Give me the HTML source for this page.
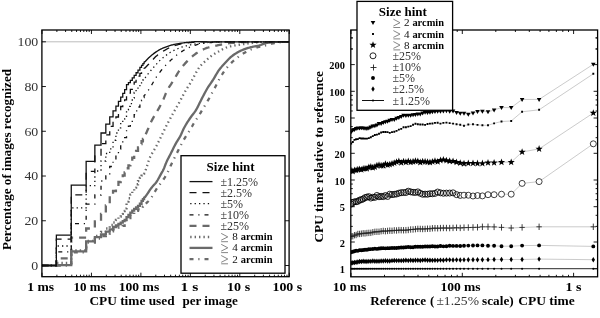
<!DOCTYPE html>
<html><head><meta charset="utf-8"><title>figure</title><style>html,body{margin:0;padding:0;background:#fff;overflow:hidden}svg{display:block;will-change:transform}text{font-family:"Liberation Serif",serif}</style></head><body>
<svg width="600" height="318" viewBox="0 0 600 318">
<rect width="600" height="318" fill="#fff"/>
<defs><clipPath id="cl"><rect x="41.9" y="30" width="247.2" height="246.7"/></clipPath>
<clipPath id="clg"><rect x="41.9" y="41.1" width="247.2" height="235.6"/></clipPath>
<clipPath id="cr"><rect x="350.8" y="30" width="246.8" height="246.8"/></clipPath></defs>
<line x1="41.9" y1="41.8" x2="289.1" y2="41.8" stroke="#a0a0a0" stroke-width="0.7"/>
<path d="M41.9 265.5h4M289.1 265.5h-4M41.9 220.76h4M289.1 220.76h-4M41.9 176.02h4M289.1 176.02h-4M41.9 131.28h4M289.1 131.28h-4M41.9 86.54h4M289.1 86.54h-4M41.9 41.8h4M289.1 41.8h-4M42 276.7v-4M42 30v4M56.89 276.7v-2M56.89 30v2M65.59 276.7v-2M65.59 30v2M71.77 276.7v-2M71.77 30v2M76.56 276.7v-2M76.56 30v2M80.48 276.7v-2M80.48 30v2M83.79 276.7v-2M83.79 30v2M86.66 276.7v-2M86.66 30v2M89.19 276.7v-2M89.19 30v2M91.45 276.7v-4M91.45 30v4M106.34 276.7v-2M106.34 30v2M115.04 276.7v-2M115.04 30v2M121.22 276.7v-2M121.22 30v2M126.01 276.7v-2M126.01 30v2M129.93 276.7v-2M129.93 30v2M133.24 276.7v-2M133.24 30v2M136.11 276.7v-2M136.11 30v2M138.64 276.7v-2M138.64 30v2M140.9 276.7v-4M140.9 30v4M155.79 276.7v-2M155.79 30v2M164.49 276.7v-2M164.49 30v2M170.67 276.7v-2M170.67 30v2M175.46 276.7v-2M175.46 30v2M179.38 276.7v-2M179.38 30v2M182.69 276.7v-2M182.69 30v2M185.56 276.7v-2M185.56 30v2M188.09 276.7v-2M188.09 30v2M190.35 276.7v-4M190.35 30v4M205.24 276.7v-2M205.24 30v2M213.94 276.7v-2M213.94 30v2M220.12 276.7v-2M220.12 30v2M224.91 276.7v-2M224.91 30v2M228.83 276.7v-2M228.83 30v2M232.14 276.7v-2M232.14 30v2M235.01 276.7v-2M235.01 30v2M237.54 276.7v-2M237.54 30v2M239.8 276.7v-4M239.8 30v4M254.69 276.7v-2M254.69 30v2M263.39 276.7v-2M263.39 30v2M269.57 276.7v-2M269.57 30v2M274.36 276.7v-2M274.36 30v2M278.28 276.7v-2M278.28 30v2M281.59 276.7v-2M281.59 30v2M284.46 276.7v-2M284.46 30v2M286.99 276.7v-2M286.99 30v2M289.25 276.7v-4M289.25 30v4" fill="none" stroke="#000" stroke-width="0.9"/>
<g clip-path="url(#clg)">
<path d="M41.9 265.5 H56.38 V265.5 H71.26 V252.4 H86.15 V242.5 H94.86 V238.6 H101.03 V236 H105.83 V233.5 H109.74 V231.3 H113.05 V229.3 H115.92 V227.5 H118.45 V227.23 H120.71 V226.95 H122.76 V225.8 H124.63 V224.17 H126.54 V220.48 H128.45 V218.05 H130.36 V216.03 H132.27 V214.18 H134.18 V212.43 H136.09 V210.82 H138 V209.28 H139.91 V207.73 H141.53 V206.53 H142.91 V205.51 H144.09 V204.62 L145.08 204.26 L145.93 203.5 L146.65 202.85 L147.35 202.2 L148.05 201.54 L148.75 200.84 L149.45 200.09 L150.15 199.28 L150.85 198.39 L151.55 197.37 L152.25 196.26 L152.95 195.09 L153.65 193.87 L154.35 192.64 L155.05 191.42 L155.75 190.24 L156.45 189.13 L157.15 188.09 L157.85 187.09 L158.55 186.13 L159.25 185.2 L159.95 184.27 L160.65 183.35 L161.35 182.43 L162.05 181.48 L162.75 180.51 L163.45 179.5 L164.15 178.45 L164.85 177.34 L165.55 176.16 L166.25 174.93 L166.95 173.64 L167.65 172.3 L168.35 170.88 L169.05 169.36 L169.75 167.8 L170.45 166.22 L171.15 164.67 L171.85 163.19 L172.55 161.74 L173.25 160.32 L173.95 158.91 L174.65 157.52 L175.35 156.13 L176.05 154.76 L176.75 153.38 L177.45 152.01 L178.15 150.62 L178.85 149.23 L179.55 147.84 L180.25 146.46 L180.95 145.09 L181.65 143.75 L182.35 142.42 L183.05 141.14 L183.75 139.89 L184.45 138.68 L185.15 137.53 L185.85 136.41 L186.55 135.31 L187.25 134.23 L187.95 133.15 L188.65 132.07 L189.35 130.98 L190.05 129.87 L190.75 128.72 L191.45 127.52 L192.15 126.27 L192.85 125 L193.55 123.76 L194.25 122.59 L194.95 121.46 L195.65 120.38 L196.35 119.31 L197.05 118.26 L197.75 117.21 L198.45 116.14 L199.15 115.06 L199.85 113.94 L200.55 112.79 L201.25 111.64 L201.95 110.47 L202.65 109.29 L203.35 108.11 L204.05 106.93 L204.75 105.75 L205.45 104.58 L206.15 103.43 L206.85 102.28 L207.55 101.13 L208.25 99.95 L208.95 98.73 L209.65 97.45 L210.35 96.13 L211.05 94.79 L211.75 93.47 L212.45 92.17 L213.15 90.89 L213.85 89.62 L214.55 88.33 L215.25 87.03 L215.95 85.67 L216.65 84.29 L217.35 82.9 L218.05 81.53 L218.75 80.2 L219.45 78.93 L220.15 77.73 L220.85 76.55 L221.55 75.39 L222.25 74.25 L222.95 73.15 L223.65 72.07 L224.35 71.04 L225.05 70.05 L225.75 69.12 L226.45 68.24 L227.15 67.4 L227.85 66.58 L228.55 65.79 L229.25 65.03 L229.95 64.28 L230.65 63.56 L231.35 62.86 L232.05 62.19 L232.75 61.53 L233.45 60.89 L234.15 60.28 L234.85 59.68 L235.55 59.1 L236.25 58.54 L236.95 57.99 L237.65 57.44 L238.35 56.91 L239.05 56.39 L239.75 55.88 L240.45 55.39 L241.15 54.9 L241.85 54.43 L242.55 53.97 L243.25 53.53 L243.95 53.1 L244.65 52.68 L245.35 52.28 L246.05 51.9 L246.75 51.53 L247.45 51.18 L248.15 50.83 L248.85 50.5 L249.55 50.18 L250.25 49.86 L250.95 49.56 L251.65 49.27 L252.35 48.98 L253.05 48.71 L253.75 48.45 L254.45 48.2 L255.15 47.96 L255.85 47.73 L256.55 47.51 L257.25 47.31 L257.95 47.12 L258.65 46.95 L259.35 46.78 L260.05 46.62 L260.75 46.46 L261.45 46.31 L262.15 46.16 L262.85 46 L263.55 45.85 L264.25 45.68 L264.95 45.51 L265.65 45.33 L266.35 45.14 L267.05 44.94 L267.75 44.74 L268.45 44.53 L269.15 44.33 L269.85 44.13 L270.55 43.93 L271.25 43.75 L271.95 43.58 L272.65 43.43 L273.35 43.29 L274.05 43.17 L274.75 43.04 L275.45 42.92 L276.15 42.8 L276.85 42.68 L277.55 42.57 L278.25 42.47 L278.95 42.37 L279.65 42.28 L280.35 42.2 L281.05 42.13 L281.75 42.07 L282.45 42.03 L283.15 41.99 L283.85 41.97 L284.55 41.94 L285.25 41.91 L285.95 41.89 L286.65 41.87 L287.35 41.85 L288.05 41.83 L288.75 41.82 L289.45 41.81 L290.15 41.8 L290.85 41.8 L291 41.8" fill="none" stroke="#6a6a6a" stroke-width="2.3" stroke-dasharray="4 4.8 1.2 5"/>
<path d="M41.9 265.5 H56.38 V265.2 H71.26 V251.4 H86.15 V241.4 H94.86 V237.1 H101.03 V234.3 H105.83 V231.6 H109.74 V229.3 H113.05 V227 H115.92 V225.5 H118.45 V224 H120.71 V222.6 H122.76 V221.2 H124.63 V219.8 H126.54 V217.08 H128.45 V214.84 H130.36 V212.65 H132.27 V210.57 H134.18 V208.85 H136.09 V207.32 H138 V205.9 H139.91 V203.73 H141.53 V200.95 H142.91 V199.06 H144.09 V197.58 L145.08 197.02 L145.93 195.86 L146.65 194.84 L147.35 193.82 L148.05 192.79 L148.75 191.75 L149.45 190.71 L150.15 189.7 L150.85 188.71 L151.55 187.76 L152.25 186.86 L152.95 186.04 L153.65 185.27 L154.35 184.52 L155.05 183.75 L155.75 182.92 L156.45 182.01 L157.15 180.97 L157.85 179.79 L158.55 178.52 L159.25 177.2 L159.95 175.88 L160.65 174.59 L161.35 173.37 L162.05 172.19 L162.75 170.96 L163.45 169.6 L164.15 167.99 L164.85 166.15 L165.55 164.29 L166.25 162.59 L166.95 161.06 L167.65 159.62 L168.35 158.24 L169.05 156.89 L169.75 155.55 L170.45 154.19 L171.15 152.8 L171.85 151.37 L172.55 149.93 L173.25 148.5 L173.95 147.08 L174.65 145.69 L175.35 144.36 L176.05 143.1 L176.75 141.91 L177.45 140.78 L178.15 139.66 L178.85 138.53 L179.55 137.35 L180.25 136.09 L180.95 134.71 L181.65 133.19 L182.35 131.62 L183.05 130.06 L183.75 128.57 L184.45 127.21 L185.15 125.95 L185.85 124.75 L186.55 123.59 L187.25 122.46 L187.95 121.37 L188.65 120.3 L189.35 119.26 L190.05 118.23 L190.75 117.22 L191.45 116.23 L192.15 115.31 L192.85 114.42 L193.55 113.54 L194.25 112.64 L194.95 111.67 L195.65 110.62 L196.35 109.46 L197.05 108.19 L197.75 106.86 L198.45 105.46 L199.15 104.04 L199.85 102.59 L200.55 101.16 L201.25 99.76 L201.95 98.4 L202.65 97.07 L203.35 95.72 L204.05 94.37 L204.75 93.04 L205.45 91.72 L206.15 90.44 L206.85 89.2 L207.55 88.02 L208.25 86.89 L208.95 85.83 L209.65 84.79 L210.35 83.79 L211.05 82.79 L211.75 81.78 L212.45 80.75 L213.15 79.68 L213.85 78.55 L214.55 77.37 L215.25 76.16 L215.95 74.94 L216.65 73.73 L217.35 72.55 L218.05 71.44 L218.75 70.41 L219.45 69.46 L220.15 68.56 L220.85 67.7 L221.55 66.87 L222.25 66.07 L222.95 65.29 L223.65 64.52 L224.35 63.76 L225.05 63 L225.75 62.23 L226.45 61.46 L227.15 60.7 L227.85 59.96 L228.55 59.22 L229.25 58.52 L229.95 57.84 L230.65 57.2 L231.35 56.59 L232.05 56.04 L232.75 55.52 L233.45 55.01 L234.15 54.52 L234.85 54.05 L235.55 53.6 L236.25 53.16 L236.95 52.73 L237.65 52.33 L238.35 51.94 L239.05 51.57 L239.75 51.21 L240.45 50.87 L241.15 50.55 L241.85 50.25 L242.55 49.96 L243.25 49.67 L243.95 49.4 L244.65 49.13 L245.35 48.88 L246.05 48.63 L246.75 48.4 L247.45 48.17 L248.15 47.96 L248.85 47.75 L249.55 47.55 L250.25 47.36 L250.95 47.19 L251.65 47.02 L252.35 46.88 L253.05 46.74 L253.75 46.61 L254.45 46.49 L255.15 46.37 L255.85 46.25 L256.55 46.12 L257.25 45.98 L257.95 45.83 L258.65 45.66 L259.35 45.46 L260.05 45.23 L260.75 44.98 L261.45 44.71 L262.15 44.44 L262.85 44.16 L263.55 43.89 L264.25 43.64 L264.95 43.41 L265.65 43.22 L266.35 43.06 L267.05 42.94 L267.75 42.84 L268.45 42.73 L269.15 42.63 L269.85 42.53 L270.55 42.43 L271.25 42.34 L271.95 42.25 L272.65 42.17 L273.35 42.09 L274.05 42.02 L274.75 41.95 L275.45 41.89 L276.15 41.84 L276.85 41.79 L277.55 41.76 L278.25 41.73 L278.95 41.71 L279.65 41.7 L280.35 41.7 L281.05 41.7 L281.75 41.7 L282.45 41.7 L283.15 41.7 L283.85 41.7 L284.55 41.7 L285.25 41.7 L285.95 41.7 L286 41.8" fill="none" stroke="#6a6a6a" stroke-width="2.3"/>
<path d="M41.9 265.5 H56.38 V263 H71.26 V250.5 H86.15 V240.8 H94.86 V236 H101.03 V232 H105.83 V228.5 H109.74 V225 H113.05 V222.5 H115.92 V220 H118.45 V216.5 H120.71 V213.8 H122.76 V211 H124.63 V208.3 H126.54 V201.54 H128.45 V198.25 H130.36 V194.66 H132.27 V191.1 H134.18 V187.59 H136.09 V184.26 H138 V181.1 H139.91 V177.96 H141.53 V175.62 H142.91 V173.67 H144.09 V171.84 L145.08 171.06 L145.93 169.23 L146.65 167.24 L147.35 165.03 L148.05 162.74 L148.75 160.53 L149.45 158.59 L150.15 157.02 L150.85 155.62 L151.55 154.33 L152.25 153.12 L152.95 151.97 L153.65 150.84 L154.35 149.71 L155.05 148.53 L155.75 147.28 L156.45 145.95 L157.15 144.59 L157.85 143.2 L158.55 141.8 L159.25 140.38 L159.95 138.95 L160.65 137.52 L161.35 136.1 L162.05 134.68 L162.75 133.24 L163.45 131.79 L164.15 130.34 L164.85 128.91 L165.55 127.49 L166.25 126.1 L166.95 124.73 L167.65 123.38 L168.35 122.04 L169.05 120.72 L169.75 119.4 L170.45 118.1 L171.15 116.81 L171.85 115.53 L172.55 114.25 L173.25 112.99 L173.95 111.75 L174.65 110.53 L175.35 109.33 L176.05 108.13 L176.75 106.92 L177.45 105.72 L178.15 104.49 L178.85 103.25 L179.55 101.98 L180.25 100.67 L180.95 99.34 L181.65 98 L182.35 96.65 L183.05 95.31 L183.75 93.99 L184.45 92.69 L185.15 91.44 L185.85 90.23 L186.55 89.07 L187.25 87.94 L187.95 86.84 L188.65 85.74 L189.35 84.65 L190.05 83.54 L190.75 82.4 L191.45 81.23 L192.15 80 L192.85 78.71 L193.55 77.37 L194.25 76.02 L194.95 74.67 L195.65 73.35 L196.35 72.1 L197.05 70.91 L197.75 69.74 L198.45 68.6 L199.15 67.54 L199.85 66.59 L200.55 65.75 L201.25 64.97 L201.95 64.25 L202.65 63.57 L203.35 62.92 L204.05 62.28 L204.75 61.66 L205.45 61.03 L206.15 60.39 L206.85 59.75 L207.55 59.11 L208.25 58.49 L208.95 57.88 L209.65 57.28 L210.35 56.72 L211.05 56.18 L211.75 55.68 L212.45 55.19 L213.15 54.72 L213.85 54.27 L214.55 53.83 L215.25 53.4 L215.95 52.98 L216.65 52.57 L217.35 52.17 L218.05 51.78 L218.75 51.38 L219.45 50.99 L220.15 50.59 L220.85 50.19 L221.55 49.79 L222.25 49.4 L222.95 49.02 L223.65 48.66 L224.35 48.32 L225.05 48.01 L225.75 47.73 L226.45 47.48 L227.15 47.26 L227.85 47.06 L228.55 46.86 L229.25 46.68 L229.95 46.5 L230.65 46.34 L231.35 46.18 L232.05 46.03 L232.75 45.88 L233.45 45.74 L234.15 45.61 L234.85 45.48 L235.55 45.35 L236.25 45.22 L236.95 45.1 L237.65 44.98 L238.35 44.86 L239.05 44.75 L239.75 44.65 L240.45 44.54 L241.15 44.44 L241.85 44.34 L242.55 44.24 L243.25 44.15 L243.95 44.05 L244.65 43.95 L245.35 43.85 L246.05 43.75 L246.75 43.65 L247.45 43.55 L248.15 43.45 L248.85 43.36 L249.55 43.26 L250.25 43.17 L250.95 43.09 L251.65 43.01 L252.35 42.93 L253.05 42.85 L253.75 42.77 L254.45 42.7 L255.15 42.62 L255.85 42.55 L256.55 42.48 L257.25 42.42 L257.95 42.36 L258.65 42.3 L259.35 42.24 L260.05 42.2 L260.75 42.15 L261.45 42.11 L262.15 42.06 L262.85 42.02 L263.55 41.99 L264.25 41.95 L264.95 41.91 L265.65 41.88 L266.35 41.85 L267.05 41.83 L267.75 41.81 L268 41.8" fill="none" stroke="#6a6a6a" stroke-width="2.3" stroke-dasharray="1.4 3.0"/>
<path d="M41.9 265.5 H56.38 V258.3 H71.26 V237.7 H86.15 V228.5 H94.86 V221.5 H101.03 V214 H105.83 V205.5 H109.74 V197.5 H113.05 V191 H115.92 V186.5 H118.45 V182 H120.71 V178.5 H122.76 V175.5 H124.63 V172.5 H126.54 V168.27 H128.45 V165.32 H130.36 V161.71 H132.27 V157.77 H134.18 V154.29 H136.09 V150.94 H138 V147.5 H139.91 V144.04 H141.53 V141.27 H142.91 V138.79 H144.09 V136.55 L145.08 135.66 L145.93 133.78 L146.65 132.17 L147.35 130.59 L148.05 129.01 L148.75 127.4 L149.45 125.74 L150.15 124.08 L150.85 122.48 L151.55 121 L152.25 119.65 L152.95 118.38 L153.65 117.18 L154.35 116.01 L155.05 114.86 L155.75 113.71 L156.45 112.54 L157.15 111.31 L157.85 110.06 L158.55 108.82 L159.25 107.58 L159.95 106.31 L160.65 105.02 L161.35 103.7 L162.05 102.32 L162.75 100.88 L163.45 99.3 L164.15 97.6 L164.85 95.85 L165.55 94.1 L166.25 92.42 L166.95 90.89 L167.65 89.55 L168.35 88.33 L169.05 87.18 L169.75 86.1 L170.45 85.06 L171.15 84.02 L171.85 82.98 L172.55 81.9 L173.25 80.77 L173.95 79.6 L174.65 78.41 L175.35 77.2 L176.05 76 L176.75 74.81 L177.45 73.64 L178.15 72.51 L178.85 71.43 L179.55 70.41 L180.25 69.45 L180.95 68.51 L181.65 67.59 L182.35 66.7 L183.05 65.83 L183.75 64.99 L184.45 64.17 L185.15 63.38 L185.85 62.61 L186.55 61.87 L187.25 61.15 L187.95 60.45 L188.65 59.77 L189.35 59.1 L190.05 58.44 L190.75 57.8 L191.45 57.17 L192.15 56.56 L192.85 55.96 L193.55 55.39 L194.25 54.84 L194.95 54.31 L195.65 53.8 L196.35 53.32 L197.05 52.87 L197.75 52.43 L198.45 52 L199.15 51.58 L199.85 51.18 L200.55 50.78 L201.25 50.4 L201.95 50.03 L202.65 49.68 L203.35 49.35 L204.05 49.03 L204.75 48.73 L205.45 48.45 L206.15 48.19 L206.85 47.95 L207.55 47.73 L208.25 47.51 L208.95 47.31 L209.65 47.12 L210.35 46.93 L211.05 46.75 L211.75 46.58 L212.45 46.41 L213.15 46.25 L213.85 46.1 L214.55 45.94 L215.25 45.8 L215.95 45.65 L216.65 45.51 L217.35 45.37 L218.05 45.23 L218.75 45.09 L219.45 44.95 L220.15 44.81 L220.85 44.67 L221.55 44.52 L222.25 44.38 L222.95 44.24 L223.65 44.1 L224.35 43.97 L225.05 43.84 L225.75 43.71 L226.45 43.59 L227.15 43.47 L227.85 43.37 L228.55 43.26 L229.25 43.17 L229.95 43.09 L230.65 43.01 L231.35 42.95 L232.05 42.88 L232.75 42.82 L233.45 42.76 L234.15 42.7 L234.85 42.65 L235.55 42.59 L236.25 42.54 L236.95 42.49 L237.65 42.44 L238.35 42.39 L239.05 42.35 L239.75 42.3 L240.45 42.26 L241.15 42.22 L241.85 42.19 L242.55 42.15 L243.25 42.12 L243.95 42.09 L244.65 42.07 L245.35 42.04 L246.05 42.02 L246.75 42 L247.45 41.98 L248.15 41.96 L248.85 41.94 L249.55 41.93 L250.25 41.91 L250.95 41.89 L251.65 41.88 L252.35 41.86 L253.05 41.85 L253.75 41.84 L254.45 41.83 L255.15 41.82 L255.85 41.81 L256.55 41.8 L257.25 41.8 L257.95 41.8 L258 41.8" fill="none" stroke="#6a6a6a" stroke-width="2.3" stroke-dasharray="7 6"/>
</g>
<g clip-path="url(#cl)">
<path d="M41.9 265.5 H56.38 V251.9 H71.26 V223.6 H86.15 V204.2 H94.86 V195 H101.03 V181 H105.83 V176 H109.74 V166.5 H113.05 V160.65 H115.92 V155.18 H118.45 V149.06 H120.71 V144.24 H122.76 V140.89 H124.63 V137.61 H126.54 V129.2 H128.45 V126.04 H130.36 V122.83 H132.27 V118.95 H134.18 V114.7 H136.09 V110.91 H138 V107.02 H139.91 V103.17 H141.53 V100.21 H142.91 V97.59 H144.09 V95.58 L145.08 94.9 L145.93 93.6 L146.65 92.57 L147.35 91.61 L148.05 90.66 L148.75 89.7 L149.45 88.69 L150.15 87.6 L150.85 86.45 L151.55 85.25 L152.25 84.02 L152.95 82.77 L153.65 81.52 L154.35 80.3 L155.05 79.11 L155.75 77.98 L156.45 76.93 L157.15 75.91 L157.85 74.91 L158.55 73.94 L159.25 72.98 L159.95 72.05 L160.65 71.15 L161.35 70.26 L162.05 69.39 L162.75 68.55 L163.45 67.73 L164.15 66.93 L164.85 66.15 L165.55 65.39 L166.25 64.65 L166.95 63.92 L167.65 63.21 L168.35 62.52 L169.05 61.84 L169.75 61.17 L170.45 60.52 L171.15 59.88 L171.85 59.24 L172.55 58.62 L173.25 58 L173.95 57.4 L174.65 56.8 L175.35 56.21 L176.05 55.64 L176.75 55.07 L177.45 54.53 L178.15 54 L178.85 53.49 L179.55 53 L180.25 52.53 L180.95 52.06 L181.65 51.6 L182.35 51.14 L183.05 50.7 L183.75 50.27 L184.45 49.84 L185.15 49.43 L185.85 49.04 L186.55 48.66 L187.25 48.3 L187.95 47.96 L188.65 47.64 L189.35 47.34 L190.05 47.05 L190.75 46.77 L191.45 46.49 L192.15 46.22 L192.85 45.97 L193.55 45.72 L194.25 45.48 L194.95 45.26 L195.65 45.05 L196.35 44.85 L197.05 44.66 L197.75 44.49 L198.45 44.33 L199.15 44.19 L199.85 44.05 L200.55 43.91 L201.25 43.78 L201.95 43.65 L202.65 43.52 L203.35 43.41 L204.05 43.29 L204.75 43.19 L205.45 43.09 L206.15 42.99 L206.85 42.9 L207.55 42.82 L208.25 42.75 L208.95 42.68 L209.65 42.63 L210.35 42.58 L211.05 42.53 L211.75 42.48 L212.45 42.43 L213.15 42.38 L213.85 42.34 L214.55 42.29 L215.25 42.25 L215.95 42.21 L216.65 42.16 L217.35 42.13 L218.05 42.09 L218.75 42.05 L219.45 42.02 L220.15 41.99 L220.85 41.96 L221.55 41.93 L222.25 41.9 L222.95 41.88 L223.65 41.86 L224.35 41.84 L225.05 41.83 L225.75 41.82 L226.45 41.81 L227.15 41.8 L227.85 41.8 L228 41.8 H289.1" fill="none" stroke="#111" stroke-width="1.3" stroke-dasharray="4 4.8 1.2 5"/>
<path d="M41.9 265.5 H56.38 V246 H71.26 V207.8 H86.15 V185.7 H94.86 V171 H101.03 V161 H105.83 V153.5 H109.74 V148.9 H113.05 V140.27 H115.92 V133.01 H118.45 V127.81 H120.71 V122.97 H122.76 V119.15 H124.63 V116.23 H126.54 V109.92 H128.45 V106.4 H130.36 V103.57 H132.27 V98.1 H134.18 V92.5 H136.09 V89.54 H138 V86.87 H139.91 V84.03 H141.53 V81.87 H142.91 V80.02 H144.09 V78.44 L145.08 77.84 L145.93 76.64 L146.65 75.67 L147.35 74.77 L148.05 73.89 L148.75 73.04 L149.45 72.2 L150.15 71.36 L150.85 70.52 L151.55 69.69 L152.25 68.87 L152.95 68.05 L153.65 67.24 L154.35 66.45 L155.05 65.67 L155.75 64.89 L156.45 64.1 L157.15 63.32 L157.85 62.55 L158.55 61.79 L159.25 61.06 L159.95 60.37 L160.65 59.72 L161.35 59.11 L162.05 58.51 L162.75 57.93 L163.45 57.35 L164.15 56.78 L164.85 56.23 L165.55 55.68 L166.25 55.15 L166.95 54.64 L167.65 54.14 L168.35 53.65 L169.05 53.18 L169.75 52.72 L170.45 52.29 L171.15 51.87 L171.85 51.47 L172.55 51.08 L173.25 50.72 L173.95 50.38 L174.65 50.05 L175.35 49.72 L176.05 49.4 L176.75 49.1 L177.45 48.8 L178.15 48.51 L178.85 48.23 L179.55 47.95 L180.25 47.69 L180.95 47.44 L181.65 47.19 L182.35 46.96 L183.05 46.74 L183.75 46.52 L184.45 46.32 L185.15 46.12 L185.85 45.94 L186.55 45.76 L187.25 45.59 L187.95 45.43 L188.65 45.27 L189.35 45.11 L190.05 44.96 L190.75 44.82 L191.45 44.68 L192.15 44.54 L192.85 44.41 L193.55 44.29 L194.25 44.16 L194.95 44.05 L195.65 43.93 L196.35 43.82 L197.05 43.72 L197.75 43.62 L198.45 43.52 L199.15 43.43 L199.85 43.33 L200.55 43.24 L201.25 43.15 L201.95 43.07 L202.65 42.98 L203.35 42.9 L204.05 42.82 L204.75 42.74 L205.45 42.67 L206.15 42.6 L206.85 42.54 L207.55 42.48 L208.25 42.42 L208.95 42.37 L209.65 42.32 L210.35 42.28 L211.05 42.24 L211.75 42.2 L212.45 42.16 L213.15 42.12 L213.85 42.08 L214.55 42.04 L215.25 42.01 L215.95 41.98 L216.65 41.95 L217.35 41.92 L218.05 41.89 L218.75 41.87 L219.45 41.85 L220.15 41.83 L220.85 41.82 L221.55 41.8 L222 41.8 H289.1" fill="none" stroke="#111" stroke-width="1.3" stroke-dasharray="1.3 3.1"/>
<path d="M41.9 265.5 H56.38 V239.2 H71.26 V194.9 H86.15 V171.4 H94.86 V156 H101.03 V143.6 H105.83 V134.8 H109.74 V126.3 H113.05 V121.5 H115.92 V117 H118.45 V111 H120.71 V106.5 H122.76 V102.83 H124.63 V99.81 H126.54 V95.98 H128.45 V93.13 H130.36 V89.43 H132.27 V85.57 H134.18 V82.17 H136.09 V79.01 H138 V76.07 H139.91 V73.32 H141.53 V71.3 H142.91 V69.69 H144.09 V68.4 L145.08 67.93 L145.93 66.99 L146.65 66.23 L147.35 65.51 L148.05 64.8 L148.75 64.1 L149.45 63.39 L150.15 62.68 L150.85 61.95 L151.55 61.18 L152.25 60.39 L152.95 59.59 L153.65 58.79 L154.35 58.02 L155.05 57.27 L155.75 56.58 L156.45 55.96 L157.15 55.38 L157.85 54.82 L158.55 54.28 L159.25 53.76 L159.95 53.26 L160.65 52.77 L161.35 52.31 L162.05 51.86 L162.75 51.42 L163.45 51 L164.15 50.59 L164.85 50.19 L165.55 49.81 L166.25 49.42 L166.95 49.04 L167.65 48.67 L168.35 48.3 L169.05 47.94 L169.75 47.59 L170.45 47.26 L171.15 46.93 L171.85 46.63 L172.55 46.34 L173.25 46.07 L173.95 45.83 L174.65 45.6 L175.35 45.4 L176.05 45.21 L176.75 45.02 L177.45 44.83 L178.15 44.65 L178.85 44.48 L179.55 44.31 L180.25 44.14 L180.95 43.98 L181.65 43.83 L182.35 43.69 L183.05 43.55 L183.75 43.42 L184.45 43.3 L185.15 43.18 L185.85 43.08 L186.55 42.98 L187.25 42.89 L187.95 42.82 L188.65 42.75 L189.35 42.69 L190.05 42.63 L190.75 42.58 L191.45 42.53 L192.15 42.47 L192.85 42.42 L193.55 42.37 L194.25 42.33 L194.95 42.28 L195.65 42.23 L196.35 42.19 L197.05 42.15 L197.75 42.11 L198.45 42.07 L199.15 42.04 L199.85 42 L200.55 41.97 L201.25 41.94 L201.95 41.91 L202.65 41.89 L203.35 41.87 L204.05 41.85 L204.75 41.83 L205.45 41.82 L206.15 41.81 L206.85 41.8 L207.55 41.8 L208 41.8 H289.1" fill="none" stroke="#111" stroke-width="1.3" stroke-dasharray="7 6"/>
<path d="M41.9 265.5 H56.38 V235.2 H71.26 V185.2 H86.15 V161.4 H94.86 V145.1 H101.03 V133 H105.83 V124.2 H109.74 V116.8 H113.05 V110.8 H115.92 V106.2 H118.45 V101.4 H120.71 V97.2 H122.76 V93.4 H124.63 V89.6 H126.54 V84.63 H128.45 V82.67 H130.36 V80.38 H132.27 V77.89 H134.18 V75.32 H136.09 V72.74 H138 V70.15 H139.91 V67.43 H141.53 V65.32 H142.91 V63.59 H144.09 V62.21 L145.08 61.7 L145.93 60.71 L146.65 59.94 L147.35 59.21 L148.05 58.51 L148.75 57.83 L149.45 57.17 L150.15 56.53 L150.85 55.91 L151.55 55.31 L152.25 54.73 L152.95 54.17 L153.65 53.63 L154.35 53.11 L155.05 52.61 L155.75 52.12 L156.45 51.65 L157.15 51.19 L157.85 50.75 L158.55 50.33 L159.25 49.92 L159.95 49.54 L160.65 49.17 L161.35 48.82 L162.05 48.5 L162.75 48.18 L163.45 47.88 L164.15 47.6 L164.85 47.32 L165.55 47.06 L166.25 46.8 L166.95 46.56 L167.65 46.32 L168.35 46.08 L169.05 45.85 L169.75 45.62 L170.45 45.41 L171.15 45.2 L171.85 45 L172.55 44.82 L173.25 44.65 L173.95 44.5 L174.65 44.36 L175.35 44.22 L176.05 44.08 L176.75 43.95 L177.45 43.82 L178.15 43.7 L178.85 43.58 L179.55 43.46 L180.25 43.34 L180.95 43.24 L181.65 43.13 L182.35 43.03 L183.05 42.93 L183.75 42.84 L184.45 42.75 L185.15 42.66 L185.85 42.58 L186.55 42.51 L187.25 42.43 L187.95 42.37 L188.65 42.3 L189.35 42.22 L190.05 42.15 L190.75 42.08 L191.45 42.02 L192.15 41.95 L192.85 41.89 L193.55 41.83 L194.25 41.77 L194.95 41.73 L195.65 41.69 L196.35 41.65 L197.05 41.62 L197.75 41.61 L198.45 41.6 L199.15 41.6 L199.85 41.6 L200.55 41.6 L201.25 41.6 L201.95 41.6 L202.65 41.6 L203 41.8 H289.1" fill="none" stroke="#111" stroke-width="1.3"/>
</g>
<rect x="41.9" y="30" width="247.2" height="246.7" fill="none" stroke="#000" stroke-width="1.3"/>
<text x="38.3" y="269.9" font-size="12.6" text-anchor="end" fill="#333" textLength="6.93" lengthAdjust="spacingAndGlyphs">0</text>
<text x="38.3" y="225.16" font-size="12.6" text-anchor="end" fill="#333" textLength="13.86" lengthAdjust="spacingAndGlyphs">20</text>
<text x="38.3" y="180.42" font-size="12.6" text-anchor="end" fill="#333" textLength="13.86" lengthAdjust="spacingAndGlyphs">40</text>
<text x="38.3" y="135.68" font-size="12.6" text-anchor="end" fill="#333" textLength="13.86" lengthAdjust="spacingAndGlyphs">60</text>
<text x="38.3" y="90.94" font-size="12.6" text-anchor="end" fill="#333" textLength="13.86" lengthAdjust="spacingAndGlyphs">80</text>
<text x="38.3" y="46.2" font-size="12.6" text-anchor="end" fill="#333" textLength="20.79" lengthAdjust="spacingAndGlyphs">100</text>
<text x="40.65" y="290.7" font-size="12.4" font-weight="bold" text-anchor="middle" textLength="26.84" lengthAdjust="spacingAndGlyphs">1 ms</text>
<text x="89.7" y="290.7" font-size="12.4" font-weight="bold" text-anchor="middle" textLength="32.2" lengthAdjust="spacingAndGlyphs">10 ms</text>
<text x="138.95" y="290.7" font-size="12.4" font-weight="bold" text-anchor="middle" textLength="40.5" lengthAdjust="spacingAndGlyphs">100 ms</text>
<text x="189.45" y="290.7" font-size="12.4" font-weight="bold" text-anchor="middle" textLength="17.8" lengthAdjust="spacingAndGlyphs">1 s</text>
<text x="238.6" y="290.7" font-size="12.4" font-weight="bold" text-anchor="middle" textLength="23.07" lengthAdjust="spacingAndGlyphs">10 s</text>
<text x="287.35" y="290.7" font-size="12.4" font-weight="bold" text-anchor="middle" textLength="29.77" lengthAdjust="spacingAndGlyphs">100 s</text>
<text x="89.4" y="305.4" font-size="13.1" font-weight="bold" textLength="85.2" lengthAdjust="spacingAndGlyphs">CPU time used</text>
<text x="182.4" y="305.4" font-size="13.1" font-weight="bold" textLength="55.4" lengthAdjust="spacingAndGlyphs">per image</text>
<text transform="translate(10.8 250) rotate(-90)" x="0" y="0" font-size="13.1" font-weight="bold" textLength="181" lengthAdjust="spacingAndGlyphs">Percentage of images recognized</text>
<rect x="181" y="155.7" width="104" height="117.5" fill="#fff" stroke="#000" stroke-width="1.3"/>
<text x="206.6" y="171.1" font-size="12.9" font-weight="bold" textLength="48" lengthAdjust="spacingAndGlyphs">Size hint</text>
<line x1="189.5" y1="181.6" x2="212.5" y2="181.6" fill="none" stroke="#111" stroke-width="1.3"/>
<text x="220.4" y="186" font-size="12" fill="#333">±1.25%</text>
<line x1="189.5" y1="192.6" x2="212.5" y2="192.6" fill="none" stroke="#111" stroke-width="1.3" stroke-dasharray="7 6"/>
<text x="220.4" y="197" font-size="12" fill="#333">±2.5%</text>
<line x1="190.2" y1="203.7" x2="211" y2="203.7" fill="none" stroke="#111" stroke-width="1.3" stroke-dasharray="1.3 3.1"/>
<text x="220.4" y="208.1" font-size="12" fill="#333">±5%</text>
<line x1="189.5" y1="214.8" x2="212.5" y2="214.8" fill="none" stroke="#111" stroke-width="1.3" stroke-dasharray="4 4.8 1.2 5"/>
<text x="220.4" y="219.2" font-size="12" fill="#333">±10%</text>
<line x1="189.5" y1="225.9" x2="212.5" y2="225.9" fill="none" stroke="#6a6a6a" stroke-width="2.3" stroke-dasharray="7 6"/>
<text x="220.4" y="230.3" font-size="12" fill="#333">±25%</text>
<line x1="190.2" y1="237" x2="211" y2="237" fill="none" stroke="#6a6a6a" stroke-width="2.3" stroke-dasharray="1.4 3.0"/>
<path d="M221.2 233.4L227.8 236.9L221.2 240.2M221.2 241.7H228" fill="none" stroke="#808080" stroke-width="0.95"/>
<text x="232.2" y="240.4" font-size="11.1" fill="#111">8</text>
<text x="240.8" y="240.4" font-size="10.9" font-weight="bold" textLength="31.7" lengthAdjust="spacingAndGlyphs">arcmin</text>
<line x1="189.5" y1="247.9" x2="212.5" y2="247.9" fill="none" stroke="#6a6a6a" stroke-width="2.3"/>
<path d="M221.2 244.3L227.8 247.8L221.2 251.1M221.2 252.6H228" fill="none" stroke="#808080" stroke-width="0.95"/>
<text x="232.2" y="251.3" font-size="11.1" fill="#111">4</text>
<text x="240.8" y="251.3" font-size="10.9" font-weight="bold" textLength="31.7" lengthAdjust="spacingAndGlyphs">arcmin</text>
<line x1="189.5" y1="259.1" x2="212.5" y2="259.1" fill="none" stroke="#6a6a6a" stroke-width="2.3" stroke-dasharray="4 4.8 1.2 5"/>
<path d="M221.2 255.5L227.8 259L221.2 262.3M221.2 263.8H228" fill="none" stroke="#808080" stroke-width="0.95"/>
<text x="232.2" y="262.5" font-size="11.1" fill="#111">2</text>
<text x="240.8" y="262.5" font-size="10.9" font-weight="bold" textLength="31.7" lengthAdjust="spacingAndGlyphs">arcmin</text>
<path d="M350.8 268.7h4M597.6 268.7h-4M350.8 242h4M597.6 242h-4M350.8 226.38h2M597.6 226.38h-2M350.8 215.3h2M597.6 215.3h-2M350.8 206.7h4M597.6 206.7h-4M350.8 199.68h2M597.6 199.68h-2M350.8 193.74h2M597.6 193.74h-2M350.8 188.6h2M597.6 188.6h-2M350.8 184.06h2M597.6 184.06h-2M350.8 180h4M597.6 180h-4M350.8 153.3h4M597.6 153.3h-4M350.8 137.68h2M597.6 137.68h-2M350.8 126.6h2M597.6 126.6h-2M350.8 118h4M597.6 118h-4M350.8 110.98h2M597.6 110.98h-2M350.8 105.04h2M597.6 105.04h-2M350.8 99.9h2M597.6 99.9h-2M350.8 95.36h2M597.6 95.36h-2M350.8 91.3h4M597.6 91.3h-4M350.8 64.6h4M597.6 64.6h-4M350.8 48.98h2M597.6 48.98h-2M350.8 37.9h2M597.6 37.9h-2M350.8 48.98h2M597.6 48.98h-2M350.8 37.9h2M597.6 37.9h-2M351 276.8v-4M351 30v4M384.5 276.8v-2M384.5 30v2M404.1 276.8v-2M404.1 30v2M418.01 276.8v-2M418.01 30v2M428.8 276.8v-2M428.8 30v2M437.61 276.8v-2M437.61 30v2M445.06 276.8v-2M445.06 30v2M451.51 276.8v-2M451.51 30v2M457.21 276.8v-2M457.21 30v2M462.3 276.8v-4M462.3 30v4M495.8 276.8v-2M495.8 30v2M515.4 276.8v-2M515.4 30v2M529.31 276.8v-2M529.31 30v2M540.1 276.8v-2M540.1 30v2M548.91 276.8v-2M548.91 30v2M556.36 276.8v-2M556.36 30v2M562.81 276.8v-2M562.81 30v2M568.51 276.8v-2M568.51 30v2M573.6 276.8v-4M573.6 30v4" fill="none" stroke="#000" stroke-width="0.9"/>
<g clip-path="url(#cr)">
<path d="M351.2 131.71L352.8 130.09L354.44 129.56L356.11 128.54L357.82 128.06L359.57 128.09L361.35 127.68L363.16 128.06L365.02 128.26L366.92 128.51L368.85 127.89L370.83 127.12L372.84 125.88L374.87 125.8L376.93 125.03L379.01 123.58L381.11 123.45L383.24 122.42L385.4 121.67L387.58 121.19L389.78 120.28L392.01 119.6L394.27 119.47L396.55 118.34L398.86 117.53L401.2 116.5L403.55 115.22L405.91 115.4L408.28 115.13L410.66 115.26L413.05 114.65L415.44 114.49L417.84 114.06L420.25 113.89L422.67 113.03L425.09 112.19L427.53 112.55L429.97 112.25L432.42 111.8L434.98 111.61L437.65 111.22L440.45 111.13L443.37 111.04L446.44 110.66L449.66 111.27L453.04 111.04L456.56 112.4L460.23 113.13L464 113.3L468.3 114.37L473 113.1L477.5 111.47L482.4 111.2L488 111.87L494.1 110.03L501.5 107.53L511.2 107.6L522.1 99.47L539.1 99.4L593.3 64.3M351.2 143.57L352.8 141.93L354.44 139.89L356.11 139.27L357.82 139.08L359.57 138.13L361.35 138.53L363.16 138.49L365.02 138.65L366.92 138.58L368.85 138.17L370.83 137.23L372.84 136.08L374.87 134.98L376.93 134.67L379.01 133.79L381.11 132.55L383.24 132.01L385.4 132.03L387.58 132.14L389.78 132.87L392.01 132.09L394.27 131.68L396.55 130.86L398.86 129.61L401.2 128.85L403.55 127.2L405.91 127.3L408.28 126.58L410.66 126.16L413.05 124.82L415.44 123.69L417.84 124.26L420.25 124.49L422.67 124.46L425.09 124.9L427.53 123.94L429.97 123.65L432.42 123.45L434.98 122.87L437.65 122.69L440.45 123.67L443.37 122.87L446.44 122.67L449.66 123.17L453.04 123.6L456.56 124.29L460.23 124.81L464 125.8L468.3 124.5L473 124.3L477.5 124.87L482.4 125.3L488 125.27L494.1 123.33L501.5 121.52L511.2 121L522.1 111.78L539.1 109.8L593.3 73.8M351.2 170.84L352.8 171.3L354.44 170.23L356.11 170.25L357.82 169.45L359.57 169.29L361.35 169.79L363.16 168.72L365.02 168.54L366.92 168.69L368.85 167.26L370.83 166.88L372.84 167.61L374.87 166.97L376.93 165.56L379.01 165.05L381.11 165.59L383.24 165.58L385.4 164.06L387.58 164.95L389.78 164.53L392.01 163.76L394.27 162.96L396.55 161.93L398.86 161.29L401.2 162.68L403.55 161.45L405.91 162.13L408.28 161.31L410.66 162.11L413.05 161.64L415.44 161.12L417.84 161.21L420.25 162.35L422.67 161.48L425.09 161.63L427.53 162.06L429.97 162.38L432.42 161.79L434.98 161.04L437.65 161.78L440.45 160.32L443.37 159.76L446.44 160.47L449.66 161.08L453.04 161.19L456.56 162.18L460.23 162.96L464 163.6L468.3 163.29L473 163.19L477.5 163.39L482.4 163.4L488 162.7L494.1 162.7L501.5 162.21L511.2 162.2L522.1 151.99L539.1 148.9L593.3 113M351.2 204.04L352.8 202.53L354.44 201.83L356.11 201.71L357.82 201.3L359.57 200.13L361.35 199.66L363.16 198.95L365.02 197.68L366.92 197.08L368.85 196.65L370.83 198.05L372.84 197.25L374.87 197.39L376.93 195.48L379.01 196.75L381.11 196.34L383.24 196.61L385.4 195.55L387.58 196.48L389.78 194.19L392.01 194.6L394.27 194.32L396.55 193.99L398.86 193.2L401.2 192.67L403.55 192.52L405.91 192.5L408.28 191.2L410.66 191.87L413.05 192.31L415.44 192.51L417.84 191.86L420.25 193.29L422.67 194.27L425.09 194.15L427.53 194.25L429.97 193.71L432.42 193.75L434.98 193.42L437.65 192.04L440.45 192.84L443.37 193.27L446.44 193.12L449.66 193.06L453.04 192.84L456.56 194.61L460.23 195.36L464 195.2L468.3 195.22L473 196L477.5 195.52L482.4 195.9L488 194.7L494.1 194.7L501.5 194.21L511.2 194.2L522.1 183.4L539.1 181.6L593.3 143.8M351.2 236.36L352.8 236.22L354.44 235.2L356.11 235.01L357.82 233.99L359.57 233.95L361.35 233.67L363.16 233.31L365.02 233.38L366.92 233.04L368.85 232.89L370.83 232.84L372.84 232.21L374.87 231.83L376.93 231.76L379.01 231.75L381.11 231.22L383.24 230.95L385.4 231.19L387.58 230.92L389.78 230.66L392.01 230.8L394.27 230.36L396.55 230.48L398.86 230.12L401.2 230.18L403.55 230.26L405.91 230.16L408.28 229.98L410.66 229.51L413.05 229.47L415.44 229.14L417.84 228.87L420.25 228.94L422.67 229.03L425.09 228.92L427.53 228.72L429.97 228.76L432.42 228.29L434.98 228.17L437.65 228.27L440.45 228.1L443.37 227.99L446.44 228.03L449.66 228.08L453.04 227.92L456.56 227.72L460.23 227.95L464 227.65L468.3 227.54L473 227.42L477.5 227.31L482.4 226.8L488 226.8L494.1 226.9L501.5 227.39L511.2 228L522.1 227.41L539.1 226.8L593.3 226.8M351.2 252.24L352.8 251.74L354.44 251.19L356.11 250.81L357.82 250.86L359.57 250.17L361.35 250.32L363.16 250.06L365.02 249.74L366.92 249.79L368.85 249.22L370.83 249.09L372.84 249.06L374.87 248.66L376.93 248.91L379.01 248.49L381.11 248.32L383.24 248.15L385.4 248.33L387.58 248.15L389.78 248.15L392.01 248.07L394.27 248.06L396.55 248.04L398.86 247.81L401.2 247.47L403.55 247.51L405.91 247.25L408.28 247.06L410.66 247.18L413.05 247.19L415.44 246.81L417.84 246.74L420.25 246.68L422.67 246.76L425.09 246.58L427.53 246.53L429.97 246.52L432.42 246.29L434.98 246.44L437.65 246.44L440.45 245.98L443.37 246.35L446.44 246.18L449.66 245.82L453.04 245.91L456.56 245.92L460.23 245.98L464 245.69L468.3 245.59L473 245.49L477.5 245.39L482.4 245.36L488 245.8L494.1 245.8L501.5 246.19L511.2 246.2L522.1 245.61L539.1 245.4L593.3 246.4M351.2 262.94L352.8 262.69L354.44 262.52L356.11 262.21L357.82 262.01L359.57 261.56L361.35 261.59L363.16 261.3L365.02 261.49L366.92 261.47L368.85 261.33L370.83 261.33L372.84 261.03L374.87 261.32L376.93 261.32L379.01 261.27L381.11 261L383.24 261.07L385.4 260.79L387.58 261.03L389.78 260.96L392.01 260.65L394.27 260.47L396.55 260.59L398.86 260.59L401.2 260.65L403.55 260.47L405.91 260.22L408.28 260.58L410.66 260.19L413.05 260.53L415.44 260.19L417.84 260.24L420.25 260.44L422.67 260.09L425.09 260.07L427.53 260.23L429.97 260.31L432.42 260.34L434.98 260.24L437.65 260.34L440.45 260.09L443.37 260.29L446.44 259.83L449.66 259.86L453.04 259.98L456.56 259.83L460.23 260.01L464 259.86L468.3 259.82L473 259.77L477.5 259.73L482.4 259.68L488 259.63L494.1 259.57L501.5 259.5L511.2 259.5L522.1 259.5L539.1 259.1L593.3 259.7" fill="none" stroke="#b4b4b4" stroke-width="0.7"/>
<path d="M350.8 268.7H597.6" stroke="#111" stroke-width="0.9"/>
<path d="M350.15 268.7a1.05 1.05 0 1 0 2.1 0a1.05 1.05 0 1 0 -2.1 0M351.75 268.7a1.05 1.05 0 1 0 2.1 0a1.05 1.05 0 1 0 -2.1 0M353.39 268.7a1.05 1.05 0 1 0 2.1 0a1.05 1.05 0 1 0 -2.1 0M355.06 268.7a1.05 1.05 0 1 0 2.1 0a1.05 1.05 0 1 0 -2.1 0M356.77 268.7a1.05 1.05 0 1 0 2.1 0a1.05 1.05 0 1 0 -2.1 0M358.52 268.7a1.05 1.05 0 1 0 2.1 0a1.05 1.05 0 1 0 -2.1 0M360.3 268.7a1.05 1.05 0 1 0 2.1 0a1.05 1.05 0 1 0 -2.1 0M362.11 268.7a1.05 1.05 0 1 0 2.1 0a1.05 1.05 0 1 0 -2.1 0M363.97 268.7a1.05 1.05 0 1 0 2.1 0a1.05 1.05 0 1 0 -2.1 0M365.87 268.7a1.05 1.05 0 1 0 2.1 0a1.05 1.05 0 1 0 -2.1 0M367.8 268.7a1.05 1.05 0 1 0 2.1 0a1.05 1.05 0 1 0 -2.1 0M369.78 268.7a1.05 1.05 0 1 0 2.1 0a1.05 1.05 0 1 0 -2.1 0M371.79 268.7a1.05 1.05 0 1 0 2.1 0a1.05 1.05 0 1 0 -2.1 0M373.82 268.7a1.05 1.05 0 1 0 2.1 0a1.05 1.05 0 1 0 -2.1 0M375.88 268.7a1.05 1.05 0 1 0 2.1 0a1.05 1.05 0 1 0 -2.1 0M377.96 268.7a1.05 1.05 0 1 0 2.1 0a1.05 1.05 0 1 0 -2.1 0M380.06 268.7a1.05 1.05 0 1 0 2.1 0a1.05 1.05 0 1 0 -2.1 0M382.19 268.7a1.05 1.05 0 1 0 2.1 0a1.05 1.05 0 1 0 -2.1 0M384.35 268.7a1.05 1.05 0 1 0 2.1 0a1.05 1.05 0 1 0 -2.1 0M386.53 268.7a1.05 1.05 0 1 0 2.1 0a1.05 1.05 0 1 0 -2.1 0M388.73 268.7a1.05 1.05 0 1 0 2.1 0a1.05 1.05 0 1 0 -2.1 0M390.96 268.7a1.05 1.05 0 1 0 2.1 0a1.05 1.05 0 1 0 -2.1 0M393.22 268.7a1.05 1.05 0 1 0 2.1 0a1.05 1.05 0 1 0 -2.1 0M395.5 268.7a1.05 1.05 0 1 0 2.1 0a1.05 1.05 0 1 0 -2.1 0M397.81 268.7a1.05 1.05 0 1 0 2.1 0a1.05 1.05 0 1 0 -2.1 0M400.15 268.7a1.05 1.05 0 1 0 2.1 0a1.05 1.05 0 1 0 -2.1 0M402.5 268.7a1.05 1.05 0 1 0 2.1 0a1.05 1.05 0 1 0 -2.1 0M404.86 268.7a1.05 1.05 0 1 0 2.1 0a1.05 1.05 0 1 0 -2.1 0M407.23 268.7a1.05 1.05 0 1 0 2.1 0a1.05 1.05 0 1 0 -2.1 0M409.61 268.7a1.05 1.05 0 1 0 2.1 0a1.05 1.05 0 1 0 -2.1 0M412 268.7a1.05 1.05 0 1 0 2.1 0a1.05 1.05 0 1 0 -2.1 0M414.39 268.7a1.05 1.05 0 1 0 2.1 0a1.05 1.05 0 1 0 -2.1 0M416.79 268.7a1.05 1.05 0 1 0 2.1 0a1.05 1.05 0 1 0 -2.1 0M419.2 268.7a1.05 1.05 0 1 0 2.1 0a1.05 1.05 0 1 0 -2.1 0M421.62 268.7a1.05 1.05 0 1 0 2.1 0a1.05 1.05 0 1 0 -2.1 0M424.04 268.7a1.05 1.05 0 1 0 2.1 0a1.05 1.05 0 1 0 -2.1 0M426.48 268.7a1.05 1.05 0 1 0 2.1 0a1.05 1.05 0 1 0 -2.1 0M428.92 268.7a1.05 1.05 0 1 0 2.1 0a1.05 1.05 0 1 0 -2.1 0M431.37 268.7a1.05 1.05 0 1 0 2.1 0a1.05 1.05 0 1 0 -2.1 0M433.93 268.7a1.05 1.05 0 1 0 2.1 0a1.05 1.05 0 1 0 -2.1 0M436.6 268.7a1.05 1.05 0 1 0 2.1 0a1.05 1.05 0 1 0 -2.1 0M439.4 268.7a1.05 1.05 0 1 0 2.1 0a1.05 1.05 0 1 0 -2.1 0M442.32 268.7a1.05 1.05 0 1 0 2.1 0a1.05 1.05 0 1 0 -2.1 0M445.39 268.7a1.05 1.05 0 1 0 2.1 0a1.05 1.05 0 1 0 -2.1 0M448.61 268.7a1.05 1.05 0 1 0 2.1 0a1.05 1.05 0 1 0 -2.1 0M451.99 268.7a1.05 1.05 0 1 0 2.1 0a1.05 1.05 0 1 0 -2.1 0M455.51 268.7a1.05 1.05 0 1 0 2.1 0a1.05 1.05 0 1 0 -2.1 0M459.18 268.7a1.05 1.05 0 1 0 2.1 0a1.05 1.05 0 1 0 -2.1 0M462.95 268.7a1.05 1.05 0 1 0 2.1 0a1.05 1.05 0 1 0 -2.1 0M467.25 268.7a1.05 1.05 0 1 0 2.1 0a1.05 1.05 0 1 0 -2.1 0M471.95 268.7a1.05 1.05 0 1 0 2.1 0a1.05 1.05 0 1 0 -2.1 0M476.45 268.7a1.05 1.05 0 1 0 2.1 0a1.05 1.05 0 1 0 -2.1 0M481.35 268.7a1.05 1.05 0 1 0 2.1 0a1.05 1.05 0 1 0 -2.1 0M486.95 268.7a1.05 1.05 0 1 0 2.1 0a1.05 1.05 0 1 0 -2.1 0M493.05 268.7a1.05 1.05 0 1 0 2.1 0a1.05 1.05 0 1 0 -2.1 0M500.45 268.7a1.05 1.05 0 1 0 2.1 0a1.05 1.05 0 1 0 -2.1 0M510.15 268.7a1.05 1.05 0 1 0 2.1 0a1.05 1.05 0 1 0 -2.1 0M521.05 268.7a1.05 1.05 0 1 0 2.1 0a1.05 1.05 0 1 0 -2.1 0M538.05 268.7a1.05 1.05 0 1 0 2.1 0a1.05 1.05 0 1 0 -2.1 0M592.25 268.7a1.05 1.05 0 1 0 2.1 0a1.05 1.05 0 1 0 -2.1 0" fill="#000"/>
<path d="M351.2 260.24l1.7 2.7l-1.7 2.7l-1.7 -2.7zM352.8 259.99l1.7 2.7l-1.7 2.7l-1.7 -2.7zM354.44 259.82l1.7 2.7l-1.7 2.7l-1.7 -2.7zM356.11 259.51l1.7 2.7l-1.7 2.7l-1.7 -2.7zM357.82 259.31l1.7 2.7l-1.7 2.7l-1.7 -2.7zM359.57 258.86l1.7 2.7l-1.7 2.7l-1.7 -2.7zM361.35 258.89l1.7 2.7l-1.7 2.7l-1.7 -2.7zM363.16 258.6l1.7 2.7l-1.7 2.7l-1.7 -2.7zM365.02 258.79l1.7 2.7l-1.7 2.7l-1.7 -2.7zM366.92 258.77l1.7 2.7l-1.7 2.7l-1.7 -2.7zM368.85 258.63l1.7 2.7l-1.7 2.7l-1.7 -2.7zM370.83 258.63l1.7 2.7l-1.7 2.7l-1.7 -2.7zM372.84 258.33l1.7 2.7l-1.7 2.7l-1.7 -2.7zM374.87 258.62l1.7 2.7l-1.7 2.7l-1.7 -2.7zM376.93 258.62l1.7 2.7l-1.7 2.7l-1.7 -2.7zM379.01 258.57l1.7 2.7l-1.7 2.7l-1.7 -2.7zM381.11 258.3l1.7 2.7l-1.7 2.7l-1.7 -2.7zM383.24 258.37l1.7 2.7l-1.7 2.7l-1.7 -2.7zM385.4 258.09l1.7 2.7l-1.7 2.7l-1.7 -2.7zM387.58 258.33l1.7 2.7l-1.7 2.7l-1.7 -2.7zM389.78 258.26l1.7 2.7l-1.7 2.7l-1.7 -2.7zM392.01 257.95l1.7 2.7l-1.7 2.7l-1.7 -2.7zM394.27 257.77l1.7 2.7l-1.7 2.7l-1.7 -2.7zM396.55 257.89l1.7 2.7l-1.7 2.7l-1.7 -2.7zM398.86 257.89l1.7 2.7l-1.7 2.7l-1.7 -2.7zM401.2 257.95l1.7 2.7l-1.7 2.7l-1.7 -2.7zM403.55 257.77l1.7 2.7l-1.7 2.7l-1.7 -2.7zM405.91 257.52l1.7 2.7l-1.7 2.7l-1.7 -2.7zM408.28 257.88l1.7 2.7l-1.7 2.7l-1.7 -2.7zM410.66 257.49l1.7 2.7l-1.7 2.7l-1.7 -2.7zM413.05 257.83l1.7 2.7l-1.7 2.7l-1.7 -2.7zM415.44 257.49l1.7 2.7l-1.7 2.7l-1.7 -2.7zM417.84 257.54l1.7 2.7l-1.7 2.7l-1.7 -2.7zM420.25 257.74l1.7 2.7l-1.7 2.7l-1.7 -2.7zM422.67 257.39l1.7 2.7l-1.7 2.7l-1.7 -2.7zM425.09 257.37l1.7 2.7l-1.7 2.7l-1.7 -2.7zM427.53 257.53l1.7 2.7l-1.7 2.7l-1.7 -2.7zM429.97 257.61l1.7 2.7l-1.7 2.7l-1.7 -2.7zM432.42 257.64l1.7 2.7l-1.7 2.7l-1.7 -2.7zM434.98 257.54l1.7 2.7l-1.7 2.7l-1.7 -2.7zM437.65 257.64l1.7 2.7l-1.7 2.7l-1.7 -2.7zM440.45 257.39l1.7 2.7l-1.7 2.7l-1.7 -2.7zM443.37 257.59l1.7 2.7l-1.7 2.7l-1.7 -2.7zM446.44 257.13l1.7 2.7l-1.7 2.7l-1.7 -2.7zM449.66 257.16l1.7 2.7l-1.7 2.7l-1.7 -2.7zM453.04 257.28l1.7 2.7l-1.7 2.7l-1.7 -2.7zM456.56 257.13l1.7 2.7l-1.7 2.7l-1.7 -2.7zM460.23 257.31l1.7 2.7l-1.7 2.7l-1.7 -2.7zM464 257.16l1.7 2.7l-1.7 2.7l-1.7 -2.7zM468.3 257.12l1.7 2.7l-1.7 2.7l-1.7 -2.7zM473 257.07l1.7 2.7l-1.7 2.7l-1.7 -2.7zM477.5 257.03l1.7 2.7l-1.7 2.7l-1.7 -2.7zM482.4 256.98l1.7 2.7l-1.7 2.7l-1.7 -2.7zM488 256.93l1.7 2.7l-1.7 2.7l-1.7 -2.7zM494.1 256.87l1.7 2.7l-1.7 2.7l-1.7 -2.7zM501.5 256.8l1.7 2.7l-1.7 2.7l-1.7 -2.7zM511.2 256.8l1.7 2.7l-1.7 2.7l-1.7 -2.7zM522.1 256.8l1.7 2.7l-1.7 2.7l-1.7 -2.7zM539.1 256.4l1.7 2.7l-1.7 2.7l-1.7 -2.7zM593.3 257l1.7 2.7l-1.7 2.7l-1.7 -2.7z" fill="#000"/>
<path d="M349.25 252.24a1.95 1.95 0 1 0 3.9 0a1.95 1.95 0 1 0 -3.9 0M350.85 251.74a1.95 1.95 0 1 0 3.9 0a1.95 1.95 0 1 0 -3.9 0M352.49 251.19a1.95 1.95 0 1 0 3.9 0a1.95 1.95 0 1 0 -3.9 0M354.16 250.81a1.95 1.95 0 1 0 3.9 0a1.95 1.95 0 1 0 -3.9 0M355.87 250.86a1.95 1.95 0 1 0 3.9 0a1.95 1.95 0 1 0 -3.9 0M357.62 250.17a1.95 1.95 0 1 0 3.9 0a1.95 1.95 0 1 0 -3.9 0M359.4 250.32a1.95 1.95 0 1 0 3.9 0a1.95 1.95 0 1 0 -3.9 0M361.21 250.06a1.95 1.95 0 1 0 3.9 0a1.95 1.95 0 1 0 -3.9 0M363.07 249.74a1.95 1.95 0 1 0 3.9 0a1.95 1.95 0 1 0 -3.9 0M364.97 249.79a1.95 1.95 0 1 0 3.9 0a1.95 1.95 0 1 0 -3.9 0M366.9 249.22a1.95 1.95 0 1 0 3.9 0a1.95 1.95 0 1 0 -3.9 0M368.88 249.09a1.95 1.95 0 1 0 3.9 0a1.95 1.95 0 1 0 -3.9 0M370.89 249.06a1.95 1.95 0 1 0 3.9 0a1.95 1.95 0 1 0 -3.9 0M372.92 248.66a1.95 1.95 0 1 0 3.9 0a1.95 1.95 0 1 0 -3.9 0M374.98 248.91a1.95 1.95 0 1 0 3.9 0a1.95 1.95 0 1 0 -3.9 0M377.06 248.49a1.95 1.95 0 1 0 3.9 0a1.95 1.95 0 1 0 -3.9 0M379.16 248.32a1.95 1.95 0 1 0 3.9 0a1.95 1.95 0 1 0 -3.9 0M381.29 248.15a1.95 1.95 0 1 0 3.9 0a1.95 1.95 0 1 0 -3.9 0M383.45 248.33a1.95 1.95 0 1 0 3.9 0a1.95 1.95 0 1 0 -3.9 0M385.63 248.15a1.95 1.95 0 1 0 3.9 0a1.95 1.95 0 1 0 -3.9 0M387.83 248.15a1.95 1.95 0 1 0 3.9 0a1.95 1.95 0 1 0 -3.9 0M390.06 248.07a1.95 1.95 0 1 0 3.9 0a1.95 1.95 0 1 0 -3.9 0M392.32 248.06a1.95 1.95 0 1 0 3.9 0a1.95 1.95 0 1 0 -3.9 0M394.6 248.04a1.95 1.95 0 1 0 3.9 0a1.95 1.95 0 1 0 -3.9 0M396.91 247.81a1.95 1.95 0 1 0 3.9 0a1.95 1.95 0 1 0 -3.9 0M399.25 247.47a1.95 1.95 0 1 0 3.9 0a1.95 1.95 0 1 0 -3.9 0M401.6 247.51a1.95 1.95 0 1 0 3.9 0a1.95 1.95 0 1 0 -3.9 0M403.96 247.25a1.95 1.95 0 1 0 3.9 0a1.95 1.95 0 1 0 -3.9 0M406.33 247.06a1.95 1.95 0 1 0 3.9 0a1.95 1.95 0 1 0 -3.9 0M408.71 247.18a1.95 1.95 0 1 0 3.9 0a1.95 1.95 0 1 0 -3.9 0M411.1 247.19a1.95 1.95 0 1 0 3.9 0a1.95 1.95 0 1 0 -3.9 0M413.49 246.81a1.95 1.95 0 1 0 3.9 0a1.95 1.95 0 1 0 -3.9 0M415.89 246.74a1.95 1.95 0 1 0 3.9 0a1.95 1.95 0 1 0 -3.9 0M418.3 246.68a1.95 1.95 0 1 0 3.9 0a1.95 1.95 0 1 0 -3.9 0M420.72 246.76a1.95 1.95 0 1 0 3.9 0a1.95 1.95 0 1 0 -3.9 0M423.14 246.58a1.95 1.95 0 1 0 3.9 0a1.95 1.95 0 1 0 -3.9 0M425.58 246.53a1.95 1.95 0 1 0 3.9 0a1.95 1.95 0 1 0 -3.9 0M428.02 246.52a1.95 1.95 0 1 0 3.9 0a1.95 1.95 0 1 0 -3.9 0M430.47 246.29a1.95 1.95 0 1 0 3.9 0a1.95 1.95 0 1 0 -3.9 0M433.03 246.44a1.95 1.95 0 1 0 3.9 0a1.95 1.95 0 1 0 -3.9 0M435.7 246.44a1.95 1.95 0 1 0 3.9 0a1.95 1.95 0 1 0 -3.9 0M438.5 245.98a1.95 1.95 0 1 0 3.9 0a1.95 1.95 0 1 0 -3.9 0M441.42 246.35a1.95 1.95 0 1 0 3.9 0a1.95 1.95 0 1 0 -3.9 0M444.49 246.18a1.95 1.95 0 1 0 3.9 0a1.95 1.95 0 1 0 -3.9 0M447.71 245.82a1.95 1.95 0 1 0 3.9 0a1.95 1.95 0 1 0 -3.9 0M451.09 245.91a1.95 1.95 0 1 0 3.9 0a1.95 1.95 0 1 0 -3.9 0M454.61 245.92a1.95 1.95 0 1 0 3.9 0a1.95 1.95 0 1 0 -3.9 0M458.28 245.98a1.95 1.95 0 1 0 3.9 0a1.95 1.95 0 1 0 -3.9 0M462.05 245.69a1.95 1.95 0 1 0 3.9 0a1.95 1.95 0 1 0 -3.9 0M466.35 245.59a1.95 1.95 0 1 0 3.9 0a1.95 1.95 0 1 0 -3.9 0M471.05 245.49a1.95 1.95 0 1 0 3.9 0a1.95 1.95 0 1 0 -3.9 0M475.55 245.39a1.95 1.95 0 1 0 3.9 0a1.95 1.95 0 1 0 -3.9 0M480.45 245.36a1.95 1.95 0 1 0 3.9 0a1.95 1.95 0 1 0 -3.9 0M486.05 245.8a1.95 1.95 0 1 0 3.9 0a1.95 1.95 0 1 0 -3.9 0M492.15 245.8a1.95 1.95 0 1 0 3.9 0a1.95 1.95 0 1 0 -3.9 0M499.55 246.19a1.95 1.95 0 1 0 3.9 0a1.95 1.95 0 1 0 -3.9 0M509.25 246.2a1.95 1.95 0 1 0 3.9 0a1.95 1.95 0 1 0 -3.9 0M520.15 245.61a1.95 1.95 0 1 0 3.9 0a1.95 1.95 0 1 0 -3.9 0M537.15 245.4a1.95 1.95 0 1 0 3.9 0a1.95 1.95 0 1 0 -3.9 0M591.35 246.4a1.95 1.95 0 1 0 3.9 0a1.95 1.95 0 1 0 -3.9 0" fill="#000"/>
<path d="M351.2 233.16v6.4M352.8 233.02v6.4M354.44 232v6.4M356.11 231.81v6.4M357.82 230.79v6.4M359.57 230.75v6.4M361.35 230.47v6.4M363.16 230.11v6.4M365.02 230.18v6.4M366.92 229.84v6.4M368.85 229.69v6.4M370.83 229.64v6.4M372.84 229.01v6.4M374.87 228.63v6.4M376.93 228.56v6.4M379.01 228.55v6.4M381.11 228.02v6.4M383.24 227.75v6.4M385.4 227.99v6.4M387.58 227.72v6.4M389.78 227.46v6.4M392.01 227.6v6.4M394.27 227.16v6.4M396.55 227.28v6.4M398.86 226.92v6.4M401.2 226.98v6.4M403.55 227.06v6.4M405.91 226.96v6.4M408.28 226.78v6.4M410.66 226.31v6.4M413.05 226.27v6.4M415.44 225.94v6.4M417.84 225.67v6.4M420.25 225.74v6.4M422.67 225.83v6.4M425.09 225.72v6.4M427.53 225.52v6.4M429.97 225.56v6.4M432.42 225.09v6.4M434.98 224.97v6.4M437.65 225.07v6.4M440.45 224.9v6.4M443.37 224.79v6.4M446.44 224.83v6.4M449.66 224.88v6.4M453.04 224.72v6.4M456.56 224.52v6.4M460.23 224.75v6.4M464 224.45v6.4M468.3 224.34v6.4M473 224.22v6.4M477.5 224.11v6.4M482.4 223.6v6.4M488 223.6v6.4M494.1 223.7v6.4M501.5 224.19v6.4M511.2 224.8v6.4M522.1 224.21v6.4M539.1 223.6v6.4M593.3 223.6v6.4" fill="none" stroke="#2a2a2a" stroke-width="0.9"/>
<path d="M348.5 236.36h5.4M350.1 236.22h5.4M351.74 235.2h5.4M353.41 235.01h5.4M355.12 233.99h5.4M356.87 233.95h5.4M358.65 233.67h5.4M360.46 233.31h5.4M362.32 233.38h5.4M364.22 233.04h5.4M366.15 232.89h5.4M368.13 232.84h5.4M370.14 232.21h5.4M372.17 231.83h5.4M374.23 231.76h5.4M376.31 231.75h5.4M378.41 231.22h5.4M380.54 230.95h5.4M382.7 231.19h5.4M384.88 230.92h5.4M387.08 230.66h5.4M389.31 230.8h5.4M391.57 230.36h5.4M393.85 230.48h5.4M396.16 230.12h5.4M398.5 230.18h5.4M400.85 230.26h5.4M403.21 230.16h5.4M405.58 229.98h5.4M407.96 229.51h5.4M410.35 229.47h5.4M412.74 229.14h5.4M415.14 228.87h5.4M417.55 228.94h5.4M419.97 229.03h5.4M422.39 228.92h5.4M424.83 228.72h5.4M427.27 228.76h5.4M429.72 228.29h5.4M432.28 228.17h5.4M434.95 228.27h5.4M437.75 228.1h5.4M440.67 227.99h5.4M443.74 228.03h5.4M446.96 228.08h5.4M450.34 227.92h5.4M453.86 227.72h5.4M457.53 227.95h5.4M461.3 227.65h5.4M465.6 227.54h5.4M470.3 227.42h5.4M474.8 227.31h5.4M479.7 226.8h5.4M485.3 226.8h5.4M491.4 226.9h5.4M498.8 227.39h5.4M508.5 228h5.4M519.4 227.41h5.4M536.4 226.8h5.4M590.6 226.8h5.4" fill="none" stroke="#222" stroke-width="0.85"/>
<path d="M348.2 204.04a3 3 0 1 0 6 0a3 3 0 1 0 -6 0M349.8 202.53a3 3 0 1 0 6 0a3 3 0 1 0 -6 0M351.44 201.83a3 3 0 1 0 6 0a3 3 0 1 0 -6 0M353.11 201.71a3 3 0 1 0 6 0a3 3 0 1 0 -6 0M354.82 201.3a3 3 0 1 0 6 0a3 3 0 1 0 -6 0M356.57 200.13a3 3 0 1 0 6 0a3 3 0 1 0 -6 0M358.35 199.66a3 3 0 1 0 6 0a3 3 0 1 0 -6 0M360.16 198.95a3 3 0 1 0 6 0a3 3 0 1 0 -6 0M362.02 197.68a3 3 0 1 0 6 0a3 3 0 1 0 -6 0M363.92 197.08a3 3 0 1 0 6 0a3 3 0 1 0 -6 0M365.85 196.65a3 3 0 1 0 6 0a3 3 0 1 0 -6 0M367.83 198.05a3 3 0 1 0 6 0a3 3 0 1 0 -6 0M369.84 197.25a3 3 0 1 0 6 0a3 3 0 1 0 -6 0M371.87 197.39a3 3 0 1 0 6 0a3 3 0 1 0 -6 0M373.93 195.48a3 3 0 1 0 6 0a3 3 0 1 0 -6 0M376.01 196.75a3 3 0 1 0 6 0a3 3 0 1 0 -6 0M378.11 196.34a3 3 0 1 0 6 0a3 3 0 1 0 -6 0M380.24 196.61a3 3 0 1 0 6 0a3 3 0 1 0 -6 0M382.4 195.55a3 3 0 1 0 6 0a3 3 0 1 0 -6 0M384.58 196.48a3 3 0 1 0 6 0a3 3 0 1 0 -6 0M386.78 194.19a3 3 0 1 0 6 0a3 3 0 1 0 -6 0M389.01 194.6a3 3 0 1 0 6 0a3 3 0 1 0 -6 0M391.27 194.32a3 3 0 1 0 6 0a3 3 0 1 0 -6 0M393.55 193.99a3 3 0 1 0 6 0a3 3 0 1 0 -6 0M395.86 193.2a3 3 0 1 0 6 0a3 3 0 1 0 -6 0M398.2 192.67a3 3 0 1 0 6 0a3 3 0 1 0 -6 0M400.55 192.52a3 3 0 1 0 6 0a3 3 0 1 0 -6 0M402.91 192.5a3 3 0 1 0 6 0a3 3 0 1 0 -6 0M405.28 191.2a3 3 0 1 0 6 0a3 3 0 1 0 -6 0M407.66 191.87a3 3 0 1 0 6 0a3 3 0 1 0 -6 0M410.05 192.31a3 3 0 1 0 6 0a3 3 0 1 0 -6 0M412.44 192.51a3 3 0 1 0 6 0a3 3 0 1 0 -6 0M414.84 191.86a3 3 0 1 0 6 0a3 3 0 1 0 -6 0M417.25 193.29a3 3 0 1 0 6 0a3 3 0 1 0 -6 0M419.67 194.27a3 3 0 1 0 6 0a3 3 0 1 0 -6 0M422.09 194.15a3 3 0 1 0 6 0a3 3 0 1 0 -6 0M424.53 194.25a3 3 0 1 0 6 0a3 3 0 1 0 -6 0M426.97 193.71a3 3 0 1 0 6 0a3 3 0 1 0 -6 0M429.42 193.75a3 3 0 1 0 6 0a3 3 0 1 0 -6 0M431.98 193.42a3 3 0 1 0 6 0a3 3 0 1 0 -6 0M434.65 192.04a3 3 0 1 0 6 0a3 3 0 1 0 -6 0M437.45 192.84a3 3 0 1 0 6 0a3 3 0 1 0 -6 0M440.37 193.27a3 3 0 1 0 6 0a3 3 0 1 0 -6 0M443.44 193.12a3 3 0 1 0 6 0a3 3 0 1 0 -6 0M446.66 193.06a3 3 0 1 0 6 0a3 3 0 1 0 -6 0M450.04 192.84a3 3 0 1 0 6 0a3 3 0 1 0 -6 0M453.56 194.61a3 3 0 1 0 6 0a3 3 0 1 0 -6 0M457.23 195.36a3 3 0 1 0 6 0a3 3 0 1 0 -6 0" fill="none" stroke="#000" stroke-width="0.85"/>
<path d="M461 195.2a3 3 0 1 0 6 0a3 3 0 1 0 -6 0M465.3 195.22a3 3 0 1 0 6 0a3 3 0 1 0 -6 0M470 196a3 3 0 1 0 6 0a3 3 0 1 0 -6 0M474.5 195.52a3 3 0 1 0 6 0a3 3 0 1 0 -6 0M479.4 195.9a3 3 0 1 0 6 0a3 3 0 1 0 -6 0M485 194.7a3 3 0 1 0 6 0a3 3 0 1 0 -6 0M491.1 194.7a3 3 0 1 0 6 0a3 3 0 1 0 -6 0M498.5 194.21a3 3 0 1 0 6 0a3 3 0 1 0 -6 0M508.2 194.2a3 3 0 1 0 6 0a3 3 0 1 0 -6 0M519.1 183.4a3 3 0 1 0 6 0a3 3 0 1 0 -6 0M536.1 181.6a3 3 0 1 0 6 0a3 3 0 1 0 -6 0M590.3 143.8a3 3 0 1 0 6 0a3 3 0 1 0 -6 0" fill="#fff" stroke="#111" stroke-width="0.8"/>
<path d="M351.2 167.04L352.11 169.59L354.81 169.67L352.67 171.32L353.43 173.92L351.2 172.39L348.97 173.92L349.73 171.32L347.59 169.67L350.29 169.59zM352.8 167.5L353.72 170.05L356.42 170.13L354.28 171.78L355.04 174.38L352.8 172.85L350.57 174.38L351.33 171.78L349.19 170.13L351.89 170.05zM354.44 166.43L355.35 168.97L358.06 169.05L355.92 170.7L356.68 173.3L354.44 171.78L352.21 173.3L352.97 170.7L350.83 169.05L353.53 168.97zM356.11 166.45L357.03 169L359.73 169.08L357.59 170.73L358.35 173.33L356.11 171.8L353.88 173.33L354.64 170.73L352.5 169.08L355.2 169zM357.82 165.65L358.73 168.2L361.44 168.28L359.3 169.93L360.06 172.53L357.82 171L355.59 172.53L356.35 169.93L354.21 168.28L356.91 168.2zM359.57 165.49L360.48 168.03L363.18 168.11L361.04 169.76L361.8 172.36L359.57 170.84L357.33 172.36L358.09 169.76L355.95 168.11L358.65 168.03zM361.35 165.99L362.26 168.54L364.96 168.62L362.82 170.27L363.58 172.86L361.35 171.34L359.11 172.86L359.87 170.27L357.73 168.62L360.44 168.54zM363.16 164.92L364.08 167.46L366.78 167.54L364.64 169.2L365.4 171.79L363.16 170.27L360.93 171.79L361.69 169.2L359.55 167.54L362.25 167.46zM365.02 164.74L365.93 167.29L368.63 167.37L366.49 169.02L367.25 171.62L365.02 170.09L362.79 171.62L363.55 169.02L361.41 167.37L364.11 167.29zM366.92 164.89L367.83 167.43L370.53 167.51L368.39 169.17L369.15 171.76L366.92 170.24L364.68 171.76L365.44 169.17L363.3 167.51L366 167.43zM368.85 163.46L369.76 166.01L372.46 166.09L370.32 167.74L371.08 170.34L368.85 168.81L366.62 170.34L367.38 167.74L365.24 166.09L367.94 166.01zM370.83 163.08L371.74 165.62L374.44 165.7L372.3 167.36L373.06 169.95L370.83 168.43L368.59 169.95L369.35 167.36L367.21 165.7L369.92 165.62zM372.84 163.81L373.75 166.35L376.45 166.43L374.31 168.09L375.07 170.68L372.84 169.16L370.6 170.68L371.36 168.09L369.22 166.43L371.92 166.35zM374.87 163.17L375.78 165.71L378.48 165.79L376.34 167.45L377.1 170.04L374.87 168.52L372.64 170.04L373.39 167.45L371.25 165.79L373.96 165.71zM376.93 161.76L377.84 164.31L380.54 164.39L378.4 166.04L379.16 168.63L376.93 167.11L374.69 168.63L375.45 166.04L373.31 164.39L376.01 164.31zM379.01 161.25L379.92 163.79L382.62 163.87L380.48 165.52L381.24 168.12L379.01 166.6L376.77 168.12L377.53 165.52L375.39 163.87L378.1 163.79zM381.11 161.79L382.02 164.34L384.73 164.42L382.59 166.07L383.35 168.67L381.11 167.14L378.88 168.67L379.64 166.07L377.5 164.42L380.2 164.34zM383.24 161.78L384.15 164.33L386.86 164.41L384.72 166.06L385.47 168.66L383.24 167.13L381.01 168.66L381.77 166.06L379.63 164.41L382.33 164.33zM385.4 160.26L386.31 162.8L389.01 162.88L386.87 164.54L387.63 167.13L385.4 165.61L383.16 167.13L383.92 164.54L381.78 162.88L384.48 162.8zM387.58 161.15L388.49 163.7L391.19 163.78L389.05 165.43L389.81 168.03L387.58 166.5L385.34 168.03L386.1 165.43L383.96 163.78L386.66 163.7zM389.78 160.73L390.69 163.27L393.39 163.35L391.25 165.01L392.01 167.6L389.78 166.08L387.55 167.6L388.31 165.01L386.17 163.35L388.87 163.27zM392.01 159.96L392.92 162.51L395.63 162.59L393.49 164.24L394.24 166.84L392.01 165.31L389.78 166.84L390.54 164.24L388.4 162.59L391.1 162.51zM394.27 159.16L395.18 161.7L397.88 161.78L395.74 163.43L396.5 166.03L394.27 164.51L392.03 166.03L392.79 163.43L390.65 161.78L393.36 161.7zM396.55 158.13L397.46 160.67L400.17 160.75L398.03 162.4L398.78 165L396.55 163.48L394.32 165L395.08 162.4L392.94 160.75L395.64 160.67zM398.86 157.49L399.77 160.04L402.47 160.12L400.34 161.77L401.09 164.37L398.86 162.84L396.63 164.37L397.39 161.77L395.25 160.12L397.95 160.04zM401.2 158.88L402.11 161.42L404.81 161.5L402.67 163.16L403.43 165.75L401.2 164.23L398.96 165.75L399.72 163.16L397.58 161.5L400.29 161.42zM403.55 157.65L404.46 160.2L407.17 160.28L405.03 161.93L405.79 164.53L403.55 163L401.32 164.53L402.08 161.93L399.94 160.28L402.64 160.2zM405.91 158.33L406.82 160.88L409.53 160.96L407.39 162.61L408.15 165.2L405.91 163.68L403.68 165.2L404.44 162.61L402.3 160.96L405 160.88zM408.28 157.51L409.19 160.06L411.9 160.14L409.76 161.79L410.52 164.38L408.28 162.86L406.05 164.38L406.81 161.79L404.67 160.14L407.37 160.06zM410.66 158.31L411.57 160.86L414.27 160.94L412.13 162.59L412.89 165.19L410.66 163.66L408.43 165.19L409.19 162.59L407.05 160.94L409.75 160.86zM413.05 157.84L413.96 160.39L416.66 160.47L414.52 162.12L415.28 164.72L413.05 163.19L410.81 164.72L411.57 162.12L409.43 160.47L412.14 160.39zM415.44 157.32L416.35 159.87L419.05 159.95L416.91 161.6L417.67 164.19L415.44 162.67L413.21 164.19L413.97 161.6L411.83 159.95L414.53 159.87zM417.84 157.41L418.75 159.95L421.46 160.03L419.32 161.68L420.07 164.28L417.84 162.76L415.61 164.28L416.37 161.68L414.23 160.03L416.93 159.95zM420.25 158.55L421.16 161.1L423.86 161.18L421.72 162.83L422.48 165.43L420.25 163.9L418.02 165.43L418.78 162.83L416.64 161.18L419.34 161.1zM422.67 157.68L423.58 160.23L426.28 160.31L424.14 161.96L424.9 164.56L422.67 163.03L420.43 164.56L421.19 161.96L419.05 160.31L421.76 160.23zM425.09 157.83L426 160.38L428.71 160.46L426.57 162.11L427.33 164.71L425.09 163.18L422.86 164.71L423.62 162.11L421.48 160.46L424.18 160.38zM427.53 158.26L428.44 160.8L431.14 160.88L429 162.54L429.76 165.13L427.53 163.61L425.29 165.13L426.05 162.54L423.91 160.88L426.62 160.8zM429.97 158.58L430.88 161.13L433.58 161.21L431.44 162.86L432.2 165.46L429.97 163.93L427.74 165.46L428.5 162.86L426.36 161.21L429.06 161.13zM432.42 157.99L433.33 160.54L436.03 160.62L433.89 162.27L434.65 164.86L432.42 163.34L430.19 164.86L430.94 162.27L428.81 160.62L431.51 160.54zM434.98 157.24L435.89 159.78L438.59 159.86L436.45 161.51L437.21 164.11L434.98 162.59L432.74 164.11L433.5 161.51L431.36 159.86L434.07 159.78zM437.65 157.98L438.56 160.53L441.27 160.6L439.13 162.26L439.89 164.85L437.65 163.33L435.42 164.85L436.18 162.26L434.04 160.6L436.74 160.53zM440.45 156.52L441.36 159.06L444.06 159.14L441.92 160.8L442.68 163.39L440.45 161.87L438.21 163.39L438.97 160.8L436.83 159.14L439.54 159.06zM443.37 155.96L444.28 158.51L446.98 158.59L444.84 160.24L445.6 162.84L443.37 161.31L441.13 162.84L441.89 160.24L439.75 158.59L442.46 158.51zM446.44 156.67L447.35 159.22L450.05 159.3L447.91 160.95L448.67 163.55L446.44 162.02L444.2 163.55L444.96 160.95L442.82 159.3L445.53 159.22zM449.66 157.28L450.57 159.83L453.27 159.9L451.13 161.56L451.89 164.15L449.66 162.63L447.43 164.15L448.18 161.56L446.04 159.9L448.75 159.83zM453.04 157.39L453.95 159.94L456.66 160.02L454.52 161.67L455.28 164.27L453.04 162.74L450.81 164.27L451.57 161.67L449.43 160.02L452.13 159.94zM456.56 158.38L457.47 160.93L460.18 161.01L458.04 162.66L458.8 165.26L456.56 163.73L454.33 165.26L455.09 162.66L452.95 161.01L455.65 160.93zM460.23 159.16L461.14 161.7L463.84 161.78L461.7 163.44L462.46 166.03L460.23 164.51L457.99 166.03L458.75 163.44L456.61 161.78L459.31 161.7zM464 159.8L464.91 162.35L467.61 162.43L465.47 164.08L466.23 166.67L464 165.15L461.77 166.67L462.53 164.08L460.39 162.43L463.09 162.35zM468.3 159.49L469.21 162.04L471.91 162.12L469.77 163.77L470.53 166.37L468.3 164.84L466.07 166.37L466.83 163.77L464.69 162.12L467.39 162.04zM473 159.39L473.91 161.94L476.61 162.02L474.47 163.67L475.23 166.26L473 164.74L470.77 166.26L471.53 163.67L469.39 162.02L472.09 161.94zM477.5 159.59L478.41 162.14L481.11 162.22L478.97 163.87L479.73 166.47L477.5 164.94L475.27 166.47L476.03 163.87L473.89 162.22L476.59 162.14zM482.4 159.6L483.31 162.15L486.01 162.23L483.87 163.88L484.63 166.47L482.4 164.95L480.17 166.47L480.93 163.88L478.79 162.23L481.49 162.15zM488 158.9L488.91 161.45L491.61 161.53L489.47 163.18L490.23 165.77L488 164.25L485.77 165.77L486.53 163.18L484.39 161.53L487.09 161.45zM494.1 158.9L495.01 161.45L497.71 161.53L495.57 163.18L496.33 165.77L494.1 164.25L491.87 165.77L492.63 163.18L490.49 161.53L493.19 161.45zM501.5 158.41L502.41 160.95L505.11 161.03L502.97 162.69L503.73 165.28L501.5 163.76L499.27 165.28L500.03 162.69L497.89 161.03L500.59 160.95zM511.2 158.4L512.11 160.95L514.81 161.03L512.67 162.68L513.43 165.27L511.2 163.75L508.97 165.27L509.73 162.68L507.59 161.03L510.29 160.95zM522.1 148.19L523.01 150.74L525.71 150.82L523.57 152.47L524.33 155.07L522.1 153.54L519.87 155.07L520.63 152.47L518.49 150.82L521.19 150.74zM539.1 145.1L540.01 147.65L542.71 147.73L540.57 149.38L541.33 151.97L539.1 150.45L536.87 151.97L537.63 149.38L535.49 147.73L538.19 147.65zM593.3 109.2L594.21 111.75L596.91 111.83L594.77 113.48L595.53 116.07L593.3 114.55L591.07 116.07L591.83 113.48L589.69 111.83L592.39 111.75z" fill="#000"/>
<path d="M350.25 142.62h1.9v1.9h-1.9zM351.85 140.98h1.9v1.9h-1.9zM353.49 138.94h1.9v1.9h-1.9zM355.16 138.32h1.9v1.9h-1.9zM356.87 138.13h1.9v1.9h-1.9zM358.62 137.18h1.9v1.9h-1.9zM360.4 137.58h1.9v1.9h-1.9zM362.21 137.54h1.9v1.9h-1.9zM364.07 137.7h1.9v1.9h-1.9zM365.97 137.63h1.9v1.9h-1.9zM367.9 137.22h1.9v1.9h-1.9zM369.88 136.28h1.9v1.9h-1.9zM371.89 135.13h1.9v1.9h-1.9zM373.92 134.03h1.9v1.9h-1.9zM375.98 133.72h1.9v1.9h-1.9zM378.06 132.84h1.9v1.9h-1.9zM380.16 131.6h1.9v1.9h-1.9zM382.29 131.06h1.9v1.9h-1.9zM384.45 131.08h1.9v1.9h-1.9zM386.63 131.19h1.9v1.9h-1.9zM388.83 131.92h1.9v1.9h-1.9zM391.06 131.14h1.9v1.9h-1.9zM393.32 130.73h1.9v1.9h-1.9zM395.6 129.91h1.9v1.9h-1.9zM397.91 128.66h1.9v1.9h-1.9zM400.25 127.9h1.9v1.9h-1.9zM402.6 126.25h1.9v1.9h-1.9zM404.96 126.35h1.9v1.9h-1.9zM407.33 125.63h1.9v1.9h-1.9zM409.71 125.21h1.9v1.9h-1.9zM412.1 123.87h1.9v1.9h-1.9zM414.49 122.74h1.9v1.9h-1.9zM416.89 123.31h1.9v1.9h-1.9zM419.3 123.54h1.9v1.9h-1.9zM421.72 123.51h1.9v1.9h-1.9zM424.14 123.95h1.9v1.9h-1.9zM426.58 122.99h1.9v1.9h-1.9zM429.02 122.7h1.9v1.9h-1.9zM431.47 122.5h1.9v1.9h-1.9zM434.03 121.92h1.9v1.9h-1.9zM436.7 121.74h1.9v1.9h-1.9zM439.5 122.72h1.9v1.9h-1.9zM442.42 121.92h1.9v1.9h-1.9zM445.49 121.72h1.9v1.9h-1.9zM448.71 122.22h1.9v1.9h-1.9zM452.09 122.65h1.9v1.9h-1.9zM455.61 123.34h1.9v1.9h-1.9zM459.28 123.86h1.9v1.9h-1.9zM463.05 124.85h1.9v1.9h-1.9zM467.35 123.55h1.9v1.9h-1.9zM472.05 123.35h1.9v1.9h-1.9zM476.55 123.92h1.9v1.9h-1.9zM481.45 124.35h1.9v1.9h-1.9zM487.05 124.32h1.9v1.9h-1.9zM493.15 122.38h1.9v1.9h-1.9zM500.55 120.57h1.9v1.9h-1.9zM510.25 120.05h1.9v1.9h-1.9zM521.15 110.83h1.9v1.9h-1.9zM538.15 108.85h1.9v1.9h-1.9zM592.35 72.85h1.9v1.9h-1.9z" fill="#000"/>
<path d="M348.9 130.21h4.6l-2.3 4zM350.5 128.59h4.6l-2.3 4zM352.14 128.06h4.6l-2.3 4zM353.81 127.04h4.6l-2.3 4zM355.52 126.56h4.6l-2.3 4zM357.27 126.59h4.6l-2.3 4zM359.05 126.18h4.6l-2.3 4zM360.86 126.56h4.6l-2.3 4zM362.72 126.76h4.6l-2.3 4zM364.62 127.01h4.6l-2.3 4zM366.55 126.39h4.6l-2.3 4zM368.53 125.62h4.6l-2.3 4zM370.54 124.38h4.6l-2.3 4zM372.57 124.3h4.6l-2.3 4zM374.63 123.53h4.6l-2.3 4zM376.71 122.08h4.6l-2.3 4zM378.81 121.95h4.6l-2.3 4zM380.94 120.92h4.6l-2.3 4zM383.1 120.17h4.6l-2.3 4zM385.28 119.69h4.6l-2.3 4zM387.48 118.78h4.6l-2.3 4zM389.71 118.1h4.6l-2.3 4zM391.97 117.97h4.6l-2.3 4zM394.25 116.84h4.6l-2.3 4zM396.56 116.03h4.6l-2.3 4zM398.9 115h4.6l-2.3 4zM401.25 113.72h4.6l-2.3 4zM403.61 113.9h4.6l-2.3 4zM405.98 113.63h4.6l-2.3 4zM408.36 113.76h4.6l-2.3 4zM410.75 113.15h4.6l-2.3 4zM413.14 112.99h4.6l-2.3 4zM415.54 112.56h4.6l-2.3 4zM417.95 112.39h4.6l-2.3 4zM420.37 111.53h4.6l-2.3 4zM422.79 110.69h4.6l-2.3 4zM425.23 111.05h4.6l-2.3 4zM427.67 110.75h4.6l-2.3 4zM430.12 110.3h4.6l-2.3 4zM432.68 110.11h4.6l-2.3 4zM435.35 109.72h4.6l-2.3 4zM438.15 109.63h4.6l-2.3 4zM441.07 109.54h4.6l-2.3 4zM444.14 109.16h4.6l-2.3 4zM447.36 109.77h4.6l-2.3 4zM450.74 109.54h4.6l-2.3 4zM454.26 110.9h4.6l-2.3 4zM457.93 111.63h4.6l-2.3 4zM461.7 111.8h4.6l-2.3 4zM466 112.87h4.6l-2.3 4zM470.7 111.6h4.6l-2.3 4zM475.2 109.97h4.6l-2.3 4zM480.1 109.7h4.6l-2.3 4zM485.7 110.37h4.6l-2.3 4zM491.8 108.53h4.6l-2.3 4zM499.2 106.03h4.6l-2.3 4zM508.9 106.1h4.6l-2.3 4zM519.8 97.97h4.6l-2.3 4zM536.8 97.9h4.6l-2.3 4zM591 62.8h4.6l-2.3 4z" fill="#000"/>
</g>
<rect x="350.8" y="30" width="246.8" height="246.8" fill="none" stroke="#000" stroke-width="1.3"/>
<text x="344.9" y="273.2" font-size="10.4" font-weight="bold" text-anchor="end">1</text>
<text x="344.9" y="246.5" font-size="10.4" font-weight="bold" text-anchor="end">2</text>
<text x="344.9" y="211.2" font-size="10.4" font-weight="bold" text-anchor="end">5</text>
<text x="344.9" y="184.5" font-size="10.4" font-weight="bold" text-anchor="end">10</text>
<text x="344.9" y="157.8" font-size="10.4" font-weight="bold" text-anchor="end">20</text>
<text x="344.9" y="122.5" font-size="10.4" font-weight="bold" text-anchor="end">50</text>
<text x="344.9" y="95.8" font-size="10.4" font-weight="bold" text-anchor="end">100</text>
<text x="344.9" y="69.1" font-size="10.4" font-weight="bold" text-anchor="end">200</text>
<text x="349.5" y="290.7" font-size="12.4" font-weight="bold" text-anchor="middle" textLength="33.3" lengthAdjust="spacingAndGlyphs">10 ms</text>
<text x="460.5" y="290.7" font-size="12.4" font-weight="bold" text-anchor="middle" textLength="40.2" lengthAdjust="spacingAndGlyphs">100 ms</text>
<text x="573.6" y="290.7" font-size="12.4" font-weight="bold" text-anchor="middle" textLength="16.0" lengthAdjust="spacingAndGlyphs">1 s</text>
<text x="370.2" y="305.4" font-size="13.1" font-weight="bold" textLength="56" lengthAdjust="spacingAndGlyphs">Reference</text>
<text x="429.9" y="305.4" font-size="13.1" font-weight="bold">(</text>
<text x="436.4" y="305.4" font-size="13.3" fill="#333" textLength="42.6" lengthAdjust="spacingAndGlyphs">±1.25%</text>
<text x="482.1" y="305.4" font-size="13.1" font-weight="bold" textLength="31.6" lengthAdjust="spacingAndGlyphs">scale)</text>
<text x="518.3" y="305.4" font-size="13.1" font-weight="bold" textLength="56.4" lengthAdjust="spacingAndGlyphs">CPU time</text>
<text transform="translate(323 242.5) rotate(-90)" x="0" y="0" font-size="13.1" font-weight="bold" textLength="171.5" lengthAdjust="spacingAndGlyphs">CPU time relative to reference</text>
<rect x="357" y="1.4" width="95.6" height="108.9" fill="#fff" stroke="#000" stroke-width="1.3"/>
<text x="378.8" y="16.0" font-size="12.9" font-weight="bold" textLength="48" lengthAdjust="spacingAndGlyphs">Size hint</text>
<path d="M370.7 21.1h4.6l-2.3 4z" fill="#000"/>
<path d="M393.4 19.2L400 22.7L393.4 26M393.4 27.5H400.2" fill="none" stroke="#808080" stroke-width="0.95"/>
<text x="404" y="26.1" font-size="11.1" fill="#111">2</text>
<text x="412.4" y="26.1" font-size="10.9" font-weight="bold" textLength="31.6" lengthAdjust="spacingAndGlyphs">arcmin</text>
<path d="M372.05 33.05h1.9v1.9h-1.9z" fill="#000"/>
<path d="M393.4 30.6L400 34.1L393.4 37.4M393.4 38.9H400.2" fill="none" stroke="#808080" stroke-width="0.95"/>
<text x="404" y="37.5" font-size="11.1" fill="#111">4</text>
<text x="412.4" y="37.5" font-size="10.9" font-weight="bold" textLength="31.6" lengthAdjust="spacingAndGlyphs">arcmin</text>
<path d="M373 41.2L373.91 43.75L376.61 43.83L374.47 45.48L375.23 48.07L373 46.55L370.77 48.07L371.53 45.48L369.39 43.83L372.09 43.75z" fill="#000"/>
<path d="M393.4 41.6L400 45.1L393.4 48.4M393.4 49.9H400.2" fill="none" stroke="#808080" stroke-width="0.95"/>
<text x="404" y="48.5" font-size="11.1" fill="#111">8</text>
<text x="412.4" y="48.5" font-size="10.9" font-weight="bold" textLength="31.6" lengthAdjust="spacingAndGlyphs">arcmin</text>
<path d="M370 55.8a3 3 0 1 0 6 0a3 3 0 1 0 -6 0" fill="none" stroke="#000" stroke-width="0.85"/>
<text x="392.4" y="60" font-size="12" fill="#333">±25%</text>
<path d="M370.5 67.5h6M373.5 64.5v6" fill="none" stroke="#222" stroke-width="0.9"/>
<text x="392.4" y="71.4" font-size="12" fill="#333">±10%</text>
<path d="M371.05 78a1.95 1.95 0 1 0 3.9 0a1.95 1.95 0 1 0 -3.9 0" fill="#000"/>
<text x="392.4" y="82.2" font-size="12" fill="#333">±5%</text>
<path d="M373 86.3l1.7 2.7l-1.7 2.7l-1.7 -2.7z" fill="#000"/>
<text x="392.4" y="93.2" font-size="12" fill="#333">±2.5%</text>
<path d="M362 100.5H384" stroke="#111" stroke-width="1"/>
<path d="M371.95 100.5a1.05 1.05 0 1 0 2.1 0a1.05 1.05 0 1 0 -2.1 0" fill="#000"/>
<text x="392.4" y="104.7" font-size="12" fill="#333">±1.25%</text>
</svg></body></html>
